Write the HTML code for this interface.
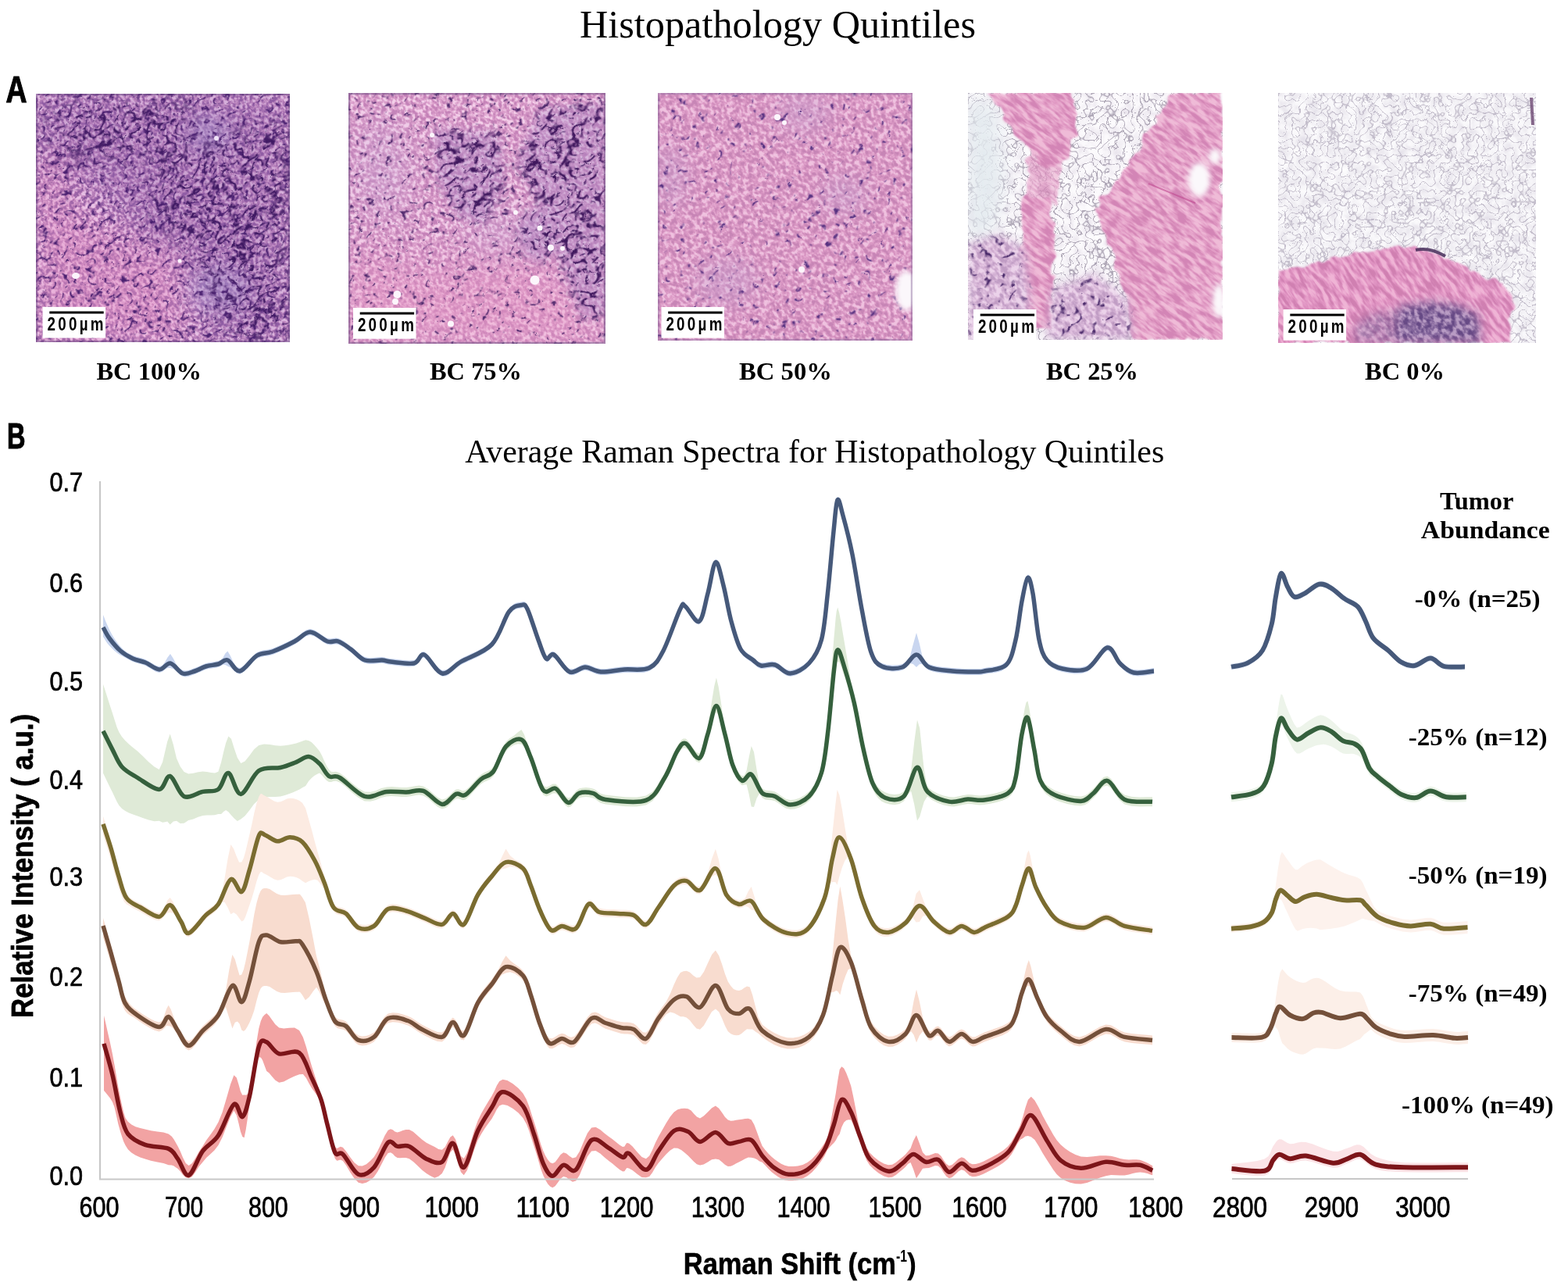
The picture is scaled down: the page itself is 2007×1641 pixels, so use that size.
<!DOCTYPE html>
<html><head><meta charset="utf-8"><title>Histopathology Quintiles</title>
<style>html,body{margin:0;padding:0;background:#fff;}svg{display:block;}</style></head>
<body>
<svg width="2007" height="1641" viewBox="0 0 2007 1641">
<rect width="2007" height="1641" fill="#fff"/>
<defs><filter id="bl6" x="-50%" y="-50%" width="200%" height="200%"><feGaussianBlur stdDeviation="6"/></filter>
<filter id="bl12" x="-50%" y="-50%" width="200%" height="200%"><feGaussianBlur stdDeviation="12"/></filter>
<filter id="bl20" x="-50%" y="-50%" width="200%" height="200%"><feGaussianBlur stdDeviation="20"/></filter>
<filter id="bl3" x="-50%" y="-50%" width="200%" height="200%"><feGaussianBlur stdDeviation="3"/></filter>
<filter id="jag" x="-20%" y="-20%" width="140%" height="140%"><feTurbulence type="fractalNoise" baseFrequency="0.06" numOctaves="2" seed="77" result="t"/><feDisplacementMap in="SourceGraphic" in2="t" scale="14" xChannelSelector="R" yChannelSelector="G" result="d"/><feGaussianBlur in="d" stdDeviation="1.2"/></filter>
<clipPath id="c1"><rect x="46" y="120" width="325" height="318"/></clipPath>
<filter id="s1" x="0" y="0" width="1" height="1" color-interpolation-filters="sRGB"><feTurbulence type="fractalNoise" baseFrequency="0.26 0.2" numOctaves="3" seed="11"/><feColorMatrix type="matrix" values="1 0 0 0 0 1 0 0 0 0 1 0 0 0 0 0 0 0 0 1"/><feComponentTransfer><feFuncR type="table" tableValues="0.949 0.949 0.949 0.949 0.949 0.949 0.949 0.949 0.949 0.949 0.949 0.949 0.949 0.949 0.939 0.913 0.887 0.862 0.836 0.810 0.784 0.749 0.713 0.678 0.642 0.607 0.571 0.557 0.557 0.557 0.557 0.557 0.557 0.557 0.557 0.557 0.557 0.557 0.557 0.557 0.557"/><feFuncG type="table" tableValues="0.816 0.816 0.816 0.816 0.816 0.816 0.816 0.816 0.816 0.816 0.816 0.816 0.816 0.816 0.800 0.761 0.722 0.682 0.643 0.604 0.565 0.533 0.501 0.469 0.437 0.405 0.374 0.361 0.361 0.361 0.361 0.361 0.361 0.361 0.361 0.361 0.361 0.361 0.361 0.361 0.361"/><feFuncB type="table" tableValues="0.941 0.941 0.941 0.941 0.941 0.941 0.941 0.941 0.941 0.941 0.941 0.941 0.941 0.941 0.930 0.903 0.876 0.850 0.823 0.796 0.769 0.749 0.729 0.710 0.690 0.671 0.651 0.643 0.643 0.643 0.643 0.643 0.643 0.643 0.643 0.643 0.643 0.643 0.643 0.643 0.643"/></feComponentTransfer></filter>
<filter id="n1a" x="0" y="0" width="1" height="1" color-interpolation-filters="sRGB"><feTurbulence type="turbulence" baseFrequency="0.07 0.11" numOctaves="1" seed="12" result="t"/><feColorMatrix in="t" type="matrix" values="0 0 0 0 0.290 0 0 0 0 0.125 0 0 0 0 0.439 -9 0 0 0 1.2" result="w"/><feTurbulence type="fractalNoise" baseFrequency="0.12" numOctaves="2" seed="112" result="f"/><feColorMatrix in="f" type="matrix" values="0 0 0 0 0 0 0 0 0 0 0 0 0 0 0 8 0 0 0 -3.920" result="m"/><feComposite in="w" in2="m" operator="in"/><feGaussianBlur stdDeviation="0.75"/></filter>
<filter id="n1b" x="0" y="0" width="1" height="1" color-interpolation-filters="sRGB"><feTurbulence type="turbulence" baseFrequency="0.065 0.1" numOctaves="1" seed="13" result="t"/><feColorMatrix in="t" type="matrix" values="0 0 0 0 0.243 0 0 0 0 0.094 0 0 0 0 0.384 -9 0 0 0 1.3" result="w"/><feTurbulence type="fractalNoise" baseFrequency="0.11" numOctaves="2" seed="113" result="f"/><feColorMatrix in="f" type="matrix" values="0 0 0 0 0 0 0 0 0 0 0 0 0 0 0 8 0 0 0 -3.360" result="m"/><feComposite in="w" in2="m" operator="in"/><feGaussianBlur stdDeviation="0.75"/></filter>
<mask id="m1t" maskUnits="userSpaceOnUse" x="6" y="80" width="405" height="398"><g filter="url(#bl20)"><path d="M46,120 L371,120 L371,438 L265,438 L245,345 L175,300 L120,230 L60,230 Z" fill="#fff"/></g></mask>
<mask id="m1b" maskUnits="userSpaceOnUse" x="6" y="80" width="405" height="398"><g filter="url(#bl12)"><path d="M200,200 L371,150 L371,438 L300,438 L255,330 L190,270 Z" fill="#fff"/><path d="M60,130 L250,128 L230,192 L150,205 L70,200 Z" fill="#fff"/></g></mask>
<mask id="m1c" maskUnits="userSpaceOnUse" x="6" y="80" width="405" height="398"><g filter="url(#bl20)"><path d="M46,250 L150,300 L230,330 L240,438 L46,438 Z" fill="#fff"/><rect x="46" y="200" width="40" height="120" fill="#fff"/></g></mask>
<mask id="m1g" maskUnits="userSpaceOnUse" x="6" y="80" width="405" height="398"><g filter="url(#bl12)"><ellipse cx="268" cy="172" rx="28" ry="24" fill="#fff"/><ellipse cx="280" cy="370" rx="40" ry="28" fill="#fff"/></g></mask>
<clipPath id="c2"><rect x="446" y="119" width="329" height="321"/></clipPath>
<filter id="s2" x="0" y="0" width="1" height="1" color-interpolation-filters="sRGB"><feTurbulence type="fractalNoise" baseFrequency="0.24 0.18" numOctaves="3" seed="21"/><feColorMatrix type="matrix" values="1 0 0 0 0 1 0 0 0 0 1 0 0 0 0 0 0 0 0 1"/><feComponentTransfer><feFuncR type="table" tableValues="0.957 0.957 0.957 0.957 0.957 0.957 0.957 0.957 0.957 0.957 0.957 0.957 0.957 0.957 0.951 0.936 0.922 0.907 0.892 0.877 0.863 0.848 0.833 0.819 0.804 0.789 0.775 0.769 0.769 0.769 0.769 0.769 0.769 0.769 0.769 0.769 0.769 0.769 0.769 0.769 0.769"/><feFuncG type="table" tableValues="0.816 0.816 0.816 0.816 0.816 0.816 0.816 0.816 0.816 0.816 0.816 0.816 0.816 0.816 0.804 0.775 0.745 0.716 0.686 0.657 0.627 0.609 0.591 0.572 0.554 0.536 0.517 0.510 0.510 0.510 0.510 0.510 0.510 0.510 0.510 0.510 0.510 0.510 0.510 0.510 0.510"/><feFuncB type="table" tableValues="0.918 0.918 0.918 0.918 0.918 0.918 0.918 0.918 0.918 0.918 0.918 0.918 0.918 0.918 0.910 0.892 0.874 0.855 0.837 0.818 0.800 0.788 0.775 0.763 0.751 0.739 0.726 0.722 0.722 0.722 0.722 0.722 0.722 0.722 0.722 0.722 0.722 0.722 0.722 0.722 0.722"/></feComponentTransfer></filter>
<filter id="n2a" x="0" y="0" width="1" height="1" color-interpolation-filters="sRGB"><feTurbulence type="turbulence" baseFrequency="0.07 0.11" numOctaves="1" seed="22" result="t"/><feColorMatrix in="t" type="matrix" values="0 0 0 0 0.306 0 0 0 0 0.157 0 0 0 0 0.424 -9 0 0 0 1.15" result="w"/><feTurbulence type="fractalNoise" baseFrequency="0.12" numOctaves="2" seed="122" result="f"/><feColorMatrix in="f" type="matrix" values="0 0 0 0 0 0 0 0 0 0 0 0 0 0 0 8 0 0 0 -4.400" result="m"/><feComposite in="w" in2="m" operator="in"/><feGaussianBlur stdDeviation="0.75"/></filter>
<filter id="n2b" x="0" y="0" width="1" height="1" color-interpolation-filters="sRGB"><feTurbulence type="turbulence" baseFrequency="0.06 0.09" numOctaves="1" seed="23" result="t"/><feColorMatrix in="t" type="matrix" values="0 0 0 0 0.251 0 0 0 0 0.094 0 0 0 0 0.369 -9 0 0 0 1.35" result="w"/><feTurbulence type="fractalNoise" baseFrequency="0.1" numOctaves="2" seed="123" result="f"/><feColorMatrix in="f" type="matrix" values="0 0 0 0 0 0 0 0 0 0 0 0 0 0 0 8 0 0 0 -3.440" result="m"/><feComposite in="w" in2="m" operator="in"/><feGaussianBlur stdDeviation="0.75"/></filter>
<mask id="m2b" maskUnits="userSpaceOnUse" x="406" y="79" width="409" height="401"><g filter="url(#bl6)"><path d="M555,165 L640,170 L645,240 L620,285 L585,275 L560,230 Z" fill="#fff"/><path d="M690,140 L775,130 L775,400 L745,410 L715,330 L690,260 L660,210 Z" fill="#fff"/><ellipse cx="690" cy="300" rx="25" ry="35" fill="#fff"/><ellipse cx="755" cy="375" rx="20" ry="25" fill="#fff"/></g></mask>
<mask id="m2c" maskUnits="userSpaceOnUse" x="406" y="79" width="409" height="401"><g filter="url(#bl20)"><path d="M446,320 L560,350 L650,310 L720,350 L775,430 L775,440 L446,440 Z" fill="#fff"/></g></mask>
<mask id="m2l" maskUnits="userSpaceOnUse" x="406" y="79" width="409" height="401"><g filter="url(#bl20)"><ellipse cx="490" cy="215" rx="35" ry="65" fill="#fff"/><ellipse cx="640" cy="300" rx="40" ry="30" fill="#fff"/></g></mask>
<clipPath id="c3"><rect x="842" y="119" width="326" height="317"/></clipPath>
<filter id="s3" x="0" y="0" width="1" height="1" color-interpolation-filters="sRGB"><feTurbulence type="fractalNoise" baseFrequency="0.22 0.16" numOctaves="3" seed="31"/><feColorMatrix type="matrix" values="1 0 0 0 0 1 0 0 0 0 1 0 0 0 0 0 0 0 0 1"/><feComponentTransfer><feFuncR type="table" tableValues="0.941 0.941 0.941 0.941 0.941 0.941 0.941 0.941 0.941 0.941 0.941 0.941 0.941 0.941 0.936 0.924 0.912 0.900 0.887 0.875 0.863 0.850 0.838 0.826 0.814 0.801 0.789 0.784 0.784 0.784 0.784 0.784 0.784 0.784 0.784 0.784 0.784 0.784 0.784 0.784 0.784"/><feFuncG type="table" tableValues="0.761 0.761 0.761 0.761 0.761 0.761 0.761 0.761 0.761 0.761 0.761 0.761 0.761 0.761 0.751 0.726 0.702 0.677 0.653 0.628 0.604 0.592 0.579 0.567 0.555 0.543 0.530 0.525 0.525 0.525 0.525 0.525 0.525 0.525 0.525 0.525 0.525 0.525 0.525 0.525 0.525"/><feFuncB type="table" tableValues="0.878 0.878 0.878 0.878 0.878 0.878 0.878 0.878 0.878 0.878 0.878 0.878 0.878 0.878 0.872 0.856 0.840 0.824 0.808 0.792 0.776 0.767 0.757 0.747 0.737 0.727 0.718 0.714 0.714 0.714 0.714 0.714 0.714 0.714 0.714 0.714 0.714 0.714 0.714 0.714 0.714"/></feComponentTransfer></filter>
<filter id="n3" x="0" y="0" width="1" height="1" color-interpolation-filters="sRGB"><feTurbulence type="turbulence" baseFrequency="0.06 0.1" numOctaves="1" seed="33" result="t"/><feColorMatrix in="t" type="matrix" values="0 0 0 0 0.337 0 0 0 0 0.188 0 0 0 0 0.502 -8 0 0 0 1.15" result="w"/><feTurbulence type="fractalNoise" baseFrequency="0.1" numOctaves="2" seed="133" result="f"/><feColorMatrix in="f" type="matrix" values="0 0 0 0 0 0 0 0 0 0 0 0 0 0 0 8 0 0 0 -4.800" result="m"/><feComposite in="w" in2="m" operator="in"/><feGaussianBlur stdDeviation="0.75"/></filter>
<mask id="m3l" maskUnits="userSpaceOnUse" x="802" y="79" width="406" height="397"><g filter="url(#bl12)"><ellipse cx="860" cy="225" rx="20" ry="40" fill="#fff"/><ellipse cx="930" cy="360" rx="40" ry="30" fill="#fff"/><ellipse cx="1030" cy="145" rx="35" ry="25" fill="#fff"/><ellipse cx="1080" cy="250" rx="30" ry="25" fill="#fff"/></g></mask>
<mask id="m3w" maskUnits="userSpaceOnUse" x="802" y="79" width="406" height="397"><g filter="url(#bl3)"><ellipse cx="1160" cy="372" rx="14" ry="26" fill="#fff"/></g></mask>
<clipPath id="c4"><rect x="1239" y="119" width="326" height="316"/></clipPath>
<filter id="t4fat" x="0" y="0" width="1" height="1" color-interpolation-filters="sRGB"><feTurbulence type="fractalNoise" baseFrequency="0.08" numOctaves="3" seed="41" result="n"/><feColorMatrix in="n" type="matrix" values="1 0 0 0 0 1 0 0 0 0 1 0 0 0 0 0 0 0 0 1" result="g"/><feComponentTransfer in="g" result="bg"><feFuncR type="table" tableValues="0.902 0.905 0.909 0.912 0.916 0.919 0.923 0.926 0.929 0.933 0.936 0.940 0.943 0.947 0.950 0.953 0.957 0.960 0.964 0.967 0.971 0.974 0.977 0.981 0.984 0.985 0.986 0.987 0.988 0.989 0.990 0.991 0.992 0.993 0.994 0.995 0.996 0.997 0.998 0.999 1.000"/><feFuncG type="table" tableValues="0.878 0.883 0.887 0.891 0.895 0.899 0.903 0.908 0.912 0.916 0.920 0.924 0.928 0.933 0.937 0.941 0.945 0.949 0.953 0.957 0.961 0.965 0.969 0.973 0.976 0.978 0.979 0.981 0.982 0.984 0.985 0.987 0.988 0.990 0.991 0.993 0.994 0.996 0.997 0.999 1.000"/><feFuncB type="table" tableValues="0.918 0.921 0.924 0.926 0.929 0.932 0.935 0.938 0.941 0.944 0.947 0.950 0.953 0.956 0.959 0.962 0.965 0.968 0.971 0.974 0.976 0.979 0.982 0.985 0.988 0.989 0.990 0.990 0.991 0.992 0.993 0.993 0.994 0.995 0.996 0.996 0.997 0.998 0.999 0.999 1.000"/></feComponentTransfer><feTurbulence type="turbulence" baseFrequency="0.1" numOctaves="1" seed="48" result="t"/><feColorMatrix in="t" type="matrix" values="0 0 0 0 0.518 0 0 0 0 0.478 0 0 0 0 0.565 -7.500 0 0 0 0.600" result="ln"/><feGaussianBlur in="ln" stdDeviation="0.6" result="lb"/><feComposite in="lb" in2="bg" operator="over"/></filter>
<filter id="t4pink" x="0" y="0" width="1" height="1" color-interpolation-filters="sRGB"><feTurbulence type="fractalNoise" baseFrequency="0.05 0.2" numOctaves="3" seed="42"/><feColorMatrix type="matrix" values="1 0 0 0 0 1 0 0 0 0 1 0 0 0 0 0 0 0 0 1"/><feComponentTransfer><feFuncR type="table" tableValues="0.941 0.941 0.941 0.941 0.941 0.941 0.941 0.941 0.941 0.941 0.941 0.941 0.941 0.941 0.938 0.931 0.924 0.916 0.909 0.901 0.894 0.884 0.875 0.865 0.855 0.845 0.835 0.831 0.831 0.831 0.831 0.831 0.831 0.831 0.831 0.831 0.831 0.831 0.831 0.831 0.831"/><feFuncG type="table" tableValues="0.737 0.737 0.737 0.737 0.737 0.737 0.737 0.737 0.737 0.737 0.737 0.737 0.737 0.737 0.730 0.713 0.696 0.679 0.662 0.645 0.627 0.612 0.596 0.580 0.564 0.548 0.532 0.525 0.525 0.525 0.525 0.525 0.525 0.525 0.525 0.525 0.525 0.525 0.525 0.525 0.525"/><feFuncB type="table" tableValues="0.847 0.847 0.847 0.847 0.847 0.847 0.847 0.847 0.847 0.847 0.847 0.847 0.847 0.847 0.843 0.833 0.824 0.814 0.804 0.794 0.784 0.773 0.762 0.751 0.740 0.729 0.718 0.714 0.714 0.714 0.714 0.714 0.714 0.714 0.714 0.714 0.714 0.714 0.714 0.714 0.714"/></feComponentTransfer></filter>
<filter id="t4pur" x="0" y="0" width="1" height="1" color-interpolation-filters="sRGB"><feTurbulence type="fractalNoise" baseFrequency="0.18 0.12" numOctaves="3" seed="43"/><feColorMatrix type="matrix" values="1 0 0 0 0 1 0 0 0 0 1 0 0 0 0 0 0 0 0 1"/><feComponentTransfer><feFuncR type="table" tableValues="0.925 0.925 0.925 0.925 0.925 0.925 0.925 0.925 0.925 0.925 0.925 0.925 0.925 0.925 0.921 0.908 0.896 0.884 0.872 0.859 0.847 0.832 0.818 0.803 0.788 0.774 0.759 0.753 0.753 0.753 0.753 0.753 0.753 0.753 0.753 0.753 0.753 0.753 0.753 0.753 0.753"/><feFuncG type="table" tableValues="0.824 0.824 0.824 0.824 0.824 0.824 0.824 0.824 0.824 0.824 0.824 0.824 0.824 0.824 0.817 0.800 0.782 0.765 0.748 0.731 0.714 0.698 0.682 0.666 0.650 0.634 0.618 0.612 0.612 0.612 0.612 0.612 0.612 0.612 0.612 0.612 0.612 0.612 0.612 0.612 0.612"/><feFuncB type="table" tableValues="0.918 0.918 0.918 0.918 0.918 0.918 0.918 0.918 0.918 0.918 0.918 0.918 0.918 0.918 0.913 0.902 0.891 0.880 0.869 0.858 0.847 0.835 0.823 0.810 0.798 0.786 0.774 0.769 0.769 0.769 0.769 0.769 0.769 0.769 0.769 0.769 0.769 0.769 0.769 0.769 0.769"/></feComponentTransfer></filter>
<filter id="n4" x="0" y="0" width="1" height="1" color-interpolation-filters="sRGB"><feTurbulence type="turbulence" baseFrequency="0.06 0.09" numOctaves="1" seed="44" result="t"/><feColorMatrix in="t" type="matrix" values="0 0 0 0 0.290 0 0 0 0 0.165 0 0 0 0 0.416 -8 0 0 0 1.2" result="w"/><feTurbulence type="fractalNoise" baseFrequency="0.1" numOctaves="2" seed="144" result="f"/><feColorMatrix in="f" type="matrix" values="0 0 0 0 0 0 0 0 0 0 0 0 0 0 0 8 0 0 0 -4.400" result="m"/><feComposite in="w" in2="m" operator="in"/><feGaussianBlur stdDeviation="0.75"/></filter>
<mask id="m4p" maskUnits="userSpaceOnUse" x="1199" y="79" width="406" height="396"><g filter="url(#jag)"><path d="M1266,119 L1372,119 L1378,165 L1368,205 L1340,215 L1300,175 Z" fill="#fff"/><path d="M1502,119 L1565,119 L1565,435 L1450,435 L1440,380 L1425,330 L1410,290 L1401,265 L1416,250 L1451,200 L1475,160 Z" fill="#fff"/><path d="M1311,250 L1345,255 L1350,300 L1346,420 L1316,425 L1306,330 Z" fill="#fff"/><path d="M1318,190 L1362,200 L1352,262 L1312,258 Z" fill="#fff" opacity="0.75"/></g></mask>
<mask id="m4w" maskUnits="userSpaceOnUse" x="1199" y="79" width="406" height="396"><g filter="url(#bl3)"><ellipse cx="1535" cy="230" rx="14" ry="22" fill="#fff"/><ellipse cx="1555" cy="200" rx="8" ry="10" fill="#fff"/><ellipse cx="1560" cy="385" rx="8" ry="22" fill="#fff"/></g></mask>
<mask id="m4u" maskUnits="userSpaceOnUse" x="1199" y="79" width="406" height="396"><g filter="url(#bl6)"><path d="M1239,312 L1280,300 L1312,318 L1318,380 L1320,435 L1239,435 Z" fill="#fff"/></g></mask>
<mask id="m4v" maskUnits="userSpaceOnUse" x="1199" y="79" width="406" height="396"><g filter="url(#bl6)"><path d="M1346,370 L1400,350 L1445,385 L1450,435 L1340,435 Z" fill="#fff"/></g></mask>
<mask id="m4g" maskUnits="userSpaceOnUse" x="1199" y="79" width="406" height="396"><g filter="url(#bl12)"><path d="M1239,125 L1275,135 L1285,230 L1270,300 L1239,310 Z" fill="#fff"/></g></mask>
<clipPath id="c5"><rect x="1636" y="119" width="330" height="320"/></clipPath>
<filter id="t5fat" x="0" y="0" width="1" height="1" color-interpolation-filters="sRGB"><feTurbulence type="fractalNoise" baseFrequency="0.08" numOctaves="3" seed="51" result="n"/><feColorMatrix in="n" type="matrix" values="1 0 0 0 0 1 0 0 0 0 1 0 0 0 0 0 0 0 0 1" result="g"/><feComponentTransfer in="g" result="bg"><feFuncR type="table" tableValues="0.886 0.890 0.893 0.897 0.900 0.903 0.907 0.910 0.914 0.917 0.921 0.924 0.927 0.931 0.934 0.938 0.941 0.945 0.949 0.953 0.957 0.961 0.965 0.969 0.973 0.974 0.976 0.978 0.979 0.981 0.983 0.985 0.986 0.988 0.990 0.991 0.993 0.995 0.997 0.998 1.000"/><feFuncG type="table" tableValues="0.871 0.875 0.878 0.882 0.886 0.890 0.894 0.898 0.902 0.906 0.910 0.914 0.918 0.922 0.925 0.929 0.933 0.938 0.942 0.947 0.951 0.955 0.960 0.964 0.969 0.971 0.973 0.975 0.976 0.978 0.980 0.982 0.984 0.986 0.988 0.990 0.992 0.994 0.996 0.998 1.000"/><feFuncB type="table" tableValues="0.910 0.912 0.915 0.918 0.921 0.923 0.926 0.929 0.931 0.934 0.937 0.939 0.942 0.945 0.948 0.950 0.953 0.956 0.960 0.963 0.967 0.970 0.974 0.977 0.980 0.982 0.983 0.984 0.985 0.987 0.988 0.989 0.990 0.991 0.993 0.994 0.995 0.996 0.998 0.999 1.000"/></feComponentTransfer><feTurbulence type="turbulence" baseFrequency="0.11" numOctaves="1" seed="58" result="t"/><feColorMatrix in="t" type="matrix" values="0 0 0 0 0.667 0 0 0 0 0.635 0 0 0 0 0.706 -7.650 0 0 0 0.637" result="ln"/><feGaussianBlur in="ln" stdDeviation="0.6" result="lb"/><feComposite in="lb" in2="bg" operator="over"/></filter>
<filter id="t5pink" x="0" y="0" width="1" height="1" color-interpolation-filters="sRGB"><feTurbulence type="fractalNoise" baseFrequency="0.05 0.2" numOctaves="3" seed="52"/><feColorMatrix type="matrix" values="1 0 0 0 0 1 0 0 0 0 1 0 0 0 0 0 0 0 0 1"/><feComponentTransfer><feFuncR type="table" tableValues="0.941 0.941 0.941 0.941 0.941 0.941 0.941 0.941 0.941 0.941 0.941 0.941 0.941 0.941 0.938 0.929 0.921 0.912 0.903 0.895 0.886 0.875 0.864 0.853 0.842 0.831 0.820 0.816 0.816 0.816 0.816 0.816 0.816 0.816 0.816 0.816 0.816 0.816 0.816 0.816 0.816"/><feFuncG type="table" tableValues="0.706 0.706 0.706 0.706 0.706 0.706 0.706 0.706 0.706 0.706 0.706 0.706 0.706 0.706 0.699 0.680 0.662 0.643 0.625 0.607 0.588 0.575 0.561 0.548 0.534 0.521 0.507 0.502 0.502 0.502 0.502 0.502 0.502 0.502 0.502 0.502 0.502 0.502 0.502 0.502 0.502"/><feFuncB type="table" tableValues="0.839 0.839 0.839 0.839 0.839 0.839 0.839 0.839 0.839 0.839 0.839 0.839 0.839 0.839 0.835 0.824 0.813 0.802 0.791 0.780 0.769 0.758 0.747 0.736 0.725 0.713 0.702 0.698 0.698 0.698 0.698 0.698 0.698 0.698 0.698 0.698 0.698 0.698 0.698 0.698 0.698"/></feComponentTransfer></filter>
<filter id="t5pur" x="0" y="0" width="1" height="1" color-interpolation-filters="sRGB"><feTurbulence type="fractalNoise" baseFrequency="0.18 0.12" numOctaves="3" seed="53"/><feColorMatrix type="matrix" values="1 0 0 0 0 1 0 0 0 0 1 0 0 0 0 0 0 0 0 1"/><feComponentTransfer><feFuncR type="table" tableValues="0.722 0.722 0.722 0.722 0.722 0.722 0.722 0.722 0.722 0.722 0.722 0.722 0.722 0.722 0.710 0.682 0.654 0.626 0.598 0.569 0.541 0.519 0.497 0.475 0.453 0.431 0.409 0.400 0.400 0.400 0.400 0.400 0.400 0.400 0.400 0.400 0.400 0.400 0.400 0.400 0.400"/><feFuncG type="table" tableValues="0.612 0.612 0.612 0.612 0.612 0.612 0.612 0.612 0.612 0.612 0.612 0.612 0.612 0.612 0.600 0.571 0.541 0.512 0.482 0.453 0.424 0.403 0.382 0.361 0.340 0.319 0.299 0.290 0.290 0.290 0.290 0.290 0.290 0.290 0.290 0.290 0.290 0.290 0.290 0.290 0.290"/><feFuncB type="table" tableValues="0.769 0.769 0.769 0.769 0.769 0.769 0.769 0.769 0.769 0.769 0.769 0.769 0.769 0.769 0.760 0.738 0.716 0.694 0.672 0.650 0.627 0.612 0.596 0.580 0.564 0.548 0.532 0.525 0.525 0.525 0.525 0.525 0.525 0.525 0.525 0.525 0.525 0.525 0.525 0.525 0.525"/></feComponentTransfer></filter>
<mask id="m5p" maskUnits="userSpaceOnUse" x="1596" y="79" width="410" height="400"><g filter="url(#jag)"><path d="M1636,345 L1686,337 L1716,328 L1752,323 L1786,315 L1827,320 L1869,340 L1894,353 L1927,365 L1935,377 L1932,439 L1636,439 Z" fill="#fff"/></g></mask>
<mask id="m5u" maskUnits="userSpaceOnUse" x="1596" y="79" width="410" height="400"><g filter="url(#bl6)"><path d="M1790,392 L1830,386 L1865,390 L1892,402 L1896,439 L1785,439 Z" fill="#fff"/><path d="M1735,415 L1760,400 L1792,398 L1790,439 L1732,439 Z" fill="#fff" opacity="0.55"/></g></mask></defs>
<g clip-path="url(#c1)">
<g><g transform="rotate(-38 208.5 279.0)"><rect x="-35.2" y="35.2" width="487.5" height="487.5" filter="url(#s1)"/></g></g>
<g mask="url(#m1t)"><rect x="46" y="120" width="325" height="318" fill="#9460a8" opacity="0.4"/></g>
<g mask="url(#m1c)"><rect x="46" y="120" width="325" height="318" fill="#e08cc0" opacity="0.5"/></g>
<g mask="url(#m1g)"><rect x="46" y="120" width="325" height="318" fill="#a898d0" opacity="0.45"/></g>
<g><g transform="rotate(-38 208.5 279.0)"><rect x="-35.2" y="35.2" width="487.5" height="487.5" filter="url(#n1a)"/></g></g>
<g mask="url(#m1b)"><g transform="rotate(-38 208.5 279.0)"><rect x="-35.2" y="35.2" width="487.5" height="487.5" filter="url(#n1b)"/></g></g>
<ellipse cx="97" cy="353" rx="5" ry="4" fill="#fcf4fc"/><ellipse cx="277" cy="177" rx="3" ry="3" fill="#f0e4f8"/><circle cx="230" cy="334" r="2.5" fill="#fcf4fc"/>
<rect x="47" y="121" width="323" height="316" fill="none" stroke="#5a3a78" stroke-width="2.5" opacity="0.45"/>
</g>
<g clip-path="url(#c2)">
<g><g transform="rotate(-35 610.5 279.5)"><rect x="363.8" y="32.8" width="493.5" height="493.5" filter="url(#s2)"/></g></g>
<g mask="url(#m2c)"><rect x="446" y="119" width="329" height="321" fill="#e896c4" opacity="0.4"/></g>
<g mask="url(#m2l)"><rect x="446" y="119" width="329" height="321" fill="#c8b0dc" opacity="0.3"/></g>
<g mask="url(#m2b)"><rect x="446" y="119" width="329" height="321" fill="#a084c4" opacity="0.35"/></g>
<g><g transform="rotate(-35 610.5 279.5)"><rect x="363.8" y="32.8" width="493.5" height="493.5" filter="url(#n2a)"/></g></g>
<g mask="url(#m2b)"><g transform="rotate(-35 610.5 279.5)"><rect x="363.8" y="32.8" width="493.5" height="493.5" filter="url(#n2b)"/></g></g>
<circle cx="684.6" cy="358.6" r="6" fill="#fcf6fc"/>
<circle cx="705" cy="317" r="4" fill="#fcf6fc"/>
<circle cx="691" cy="292" r="3.5" fill="#fcf6fc"/>
<circle cx="660" cy="272" r="3" fill="#fcf6fc"/>
<circle cx="508.5" cy="377" r="5" fill="#fcf6fc"/>
<circle cx="506" cy="386" r="4" fill="#fcf6fc"/>
<circle cx="577" cy="414.6" r="4" fill="#fcf6fc"/>
<circle cx="553" cy="173" r="3" fill="#fcf6fc"/>
<circle cx="720" cy="318" r="3" fill="#fcf6fc"/>
<rect x="447" y="120" width="327" height="319" fill="none" stroke="#6a4a80" stroke-width="2.5" opacity="0.5"/>
</g>
<g clip-path="url(#c3)">
<g><g transform="rotate(-40 1005.0 277.5)"><rect x="760.5" y="33.0" width="489.0" height="489.0" filter="url(#s3)"/></g></g>
<g mask="url(#m3l)"><rect x="842" y="119" width="326" height="317" fill="#c0a4d4" opacity="0.3"/></g>
<g><g transform="rotate(-50 1005.0 277.5)"><rect x="760.5" y="33.0" width="489.0" height="489.0" filter="url(#n3)"/></g></g>
<g mask="url(#m3w)"><rect x="1130" y="330" width="40" height="90" fill="#fbf7fb"/></g>
<circle cx="1026" cy="345" r="4" fill="#fcf6fc"/><circle cx="995" cy="150" r="4" fill="#fcf6fc"/><circle cx="1004" cy="157" r="3" fill="#fcf6fc"/>
<rect x="843" y="120" width="324" height="315" fill="none" stroke="#7a5a90" stroke-width="2.5" opacity="0.4"/>
</g>
<g clip-path="url(#c4)">
<g><rect x="1239" y="119" width="326" height="316" filter="url(#t4fat)"/></g>
<g mask="url(#m4g)"><rect x="1239" y="119" width="326" height="316" fill="#e2eaee" opacity="0.9"/></g>
<g mask="url(#m4p)"><g transform="rotate(38 1402.0 277.0)"><rect x="1157.5" y="32.5" width="489.0" height="489.0" filter="url(#t4pink)"/></g></g>
<g mask="url(#m4w)"><rect x="1239" y="119" width="326" height="316" fill="#fbf8fb"/></g>
<g mask="url(#m4u)"><g transform="rotate(-40 1402.0 277.0)"><rect x="1157.5" y="32.5" width="489.0" height="489.0" filter="url(#t4pur)"/></g></g>
<g mask="url(#m4v)"><g transform="rotate(-40 1402.0 277.0)"><rect x="1157.5" y="32.5" width="489.0" height="489.0" filter="url(#t4pur)"/></g></g>
<g mask="url(#m4u)"><g transform="rotate(-40 1402.0 277.0)"><rect x="1157.5" y="32.5" width="489.0" height="489.0" filter="url(#n4)"/></g></g>
<g mask="url(#m4v)"><g transform="rotate(-40 1402.0 277.0)"><rect x="1157.5" y="32.5" width="489.0" height="489.0" filter="url(#n4)"/></g></g>
<path d="M1470,235 L1530,260" stroke="#c04890" stroke-width="2" opacity="0.6"/>
</g>
<g clip-path="url(#c5)">
<g><rect x="1636" y="119" width="330" height="320" filter="url(#t5fat)"/></g>
<g mask="url(#m5p)"><g transform="rotate(55 1801.0 279.0)"><rect x="1553.5" y="31.5" width="495.0" height="495.0" filter="url(#t5pink)"/></g></g>
<g mask="url(#m5u)"><g transform="rotate(-40 1801.0 279.0)"><rect x="1553.5" y="31.5" width="495.0" height="495.0" filter="url(#t5pur)"/></g></g>
<path d="M1890,439 L1900,415" stroke="#fff" stroke-width="0"/>
<path d="M1812,320 Q1830,316 1850,328" stroke="#3c2050" stroke-width="4" fill="none" opacity="0.8"/>
<path d="M1960,125 L1962,160" stroke="#5a3060" stroke-width="4" opacity="0.7"/>
</g>
<rect x="54.6" y="392.9" width="80.5" height="39.7" fill="#fff"/>
<rect x="63.3" y="398.5" width="69.4" height="3" fill="#000"/>
<text transform="translate(60.5,422.7) scale(0.8,1)" font-family="Liberation Sans, sans-serif" font-size="23.5" font-weight="700" textLength="90" lengthAdjust="spacing">200µm</text>
<rect x="452" y="394" width="80.5" height="39.7" fill="#fff"/>
<rect x="460.7" y="399.6" width="69.4" height="3" fill="#000"/>
<text transform="translate(457.9,423.8) scale(0.8,1)" font-family="Liberation Sans, sans-serif" font-size="23.5" font-weight="700" textLength="90" lengthAdjust="spacing">200µm</text>
<rect x="846.5" y="393" width="80.5" height="39.7" fill="#fff"/>
<rect x="855.2" y="398.6" width="69.4" height="3" fill="#000"/>
<text transform="translate(852.4,422.8) scale(0.8,1)" font-family="Liberation Sans, sans-serif" font-size="23.5" font-weight="700" textLength="90" lengthAdjust="spacing">200µm</text>
<rect x="1246" y="396" width="80.5" height="39.7" fill="#fff"/>
<rect x="1254.7" y="401.6" width="69.4" height="3" fill="#000"/>
<text transform="translate(1251.9,425.8) scale(0.8,1)" font-family="Liberation Sans, sans-serif" font-size="23.5" font-weight="700" textLength="90" lengthAdjust="spacing">200µm</text>
<rect x="1642.6" y="396" width="80.5" height="39.7" fill="#fff"/>
<rect x="1651.3" y="401.6" width="69.4" height="3" fill="#000"/>
<text transform="translate(1648.5,425.8) scale(0.8,1)" font-family="Liberation Sans, sans-serif" font-size="23.5" font-weight="700" textLength="90" lengthAdjust="spacing">200µm</text>
<path d="M132.0,787.0 L133.3,790.3 L135.1,794.9 L137.4,800.3 L140.0,805.9 L143.0,811.8 L146.5,817.6 L150.2,822.8 L154.0,827.4 L157.9,831.5 L161.9,834.7 L166.0,837.0 L170.0,839.0 L174.0,840.5 L177.9,841.6 L181.9,842.6 L186.0,844.0 L190.5,846.4 L195.1,849.3 L199.7,851.9 L204.0,853.0 L207.7,851.7 L211.1,847.6 L214.5,841.5 L218.0,837.0 L221.9,843.0 L225.9,851.1 L230.0,855.4 L234.0,858.0 L237.9,858.4 L241.9,857.7 L245.7,856.3 L249.5,855.0 L253.1,853.6 L256.5,852.0 L259.9,850.4 L263.5,849.0 L267.5,848.1 L271.6,847.4 L275.7,846.8 L279.5,846.0 L282.7,844.4 L285.5,841.8 L288.3,836.6 L291.4,833.4 L294.9,839.4 L298.6,847.7 L302.6,853.4 L307.0,855.0 L312.1,852.0 L317.7,846.2 L323.5,839.7 L329.0,835.0 L334.0,832.9 L338.6,832.1 L343.5,831.5 L349.0,830.0 L355.6,827.3 L363.0,823.9 L370.4,820.4 L377.0,817.0 L382.5,813.4 L387.4,809.4 L392.0,806.3 L397.0,805.0 L402.5,806.6 L408.4,810.2 L414.0,814.3 L419.0,817.0 L423.0,817.6 L426.4,817.1 L429.5,816.6 L433.0,817.0 L436.8,818.7 L440.8,821.1 L444.8,824.0 L449.0,827.0 L453.3,830.5 L457.6,834.6 L462.2,838.4 L467.0,841.0 L472.5,841.9 L478.4,841.8 L484.2,841.2 L489.0,841.0 L492.1,841.4 L494.0,841.9 L496.2,842.5 L500.0,843.0 L506.6,843.8 L514.9,844.8 L523.2,845.4 L530.0,845.0 L534.2,842.3 L536.9,838.1 L539.4,834.6 L543.0,834.0 L548.0,838.5 L553.8,846.2 L559.9,853.9 L566.0,858.0 L571.6,857.2 L577.0,853.4 L582.9,848.2 L590.0,843.0 L599.2,838.5 L609.9,833.7 L620.5,828.1 L629.5,821.0 L636.4,811.1 L642.0,799.2 L646.8,787.6 L651.5,779.0 L656.1,774.2 L660.3,771.8 L664.2,770.9 L667.4,770.5 L669.7,770.0 L671.3,770.0 L672.8,771.5 L675.0,775.5 L678.1,783.3 L681.9,794.1 L685.6,805.4 L689.0,815.0 L691.8,822.8 L694.2,829.8 L696.6,835.4 L699.0,839.0 L701.3,839.2 L703.4,836.6 L705.8,834.0 L709.0,834.0 L713.3,838.3 L718.4,845.1 L723.8,851.8 L729.0,856.0 L734.0,856.2 L739.0,854.0 L744.0,851.3 L749.0,850.0 L753.8,850.9 L758.4,852.8 L763.3,854.9 L769.0,856.0 L775.8,855.9 L783.2,855.0 L791.1,853.9 L799.0,853.0 L807.2,852.9 L815.8,853.2 L823.9,852.9 L831.0,851.0 L836.4,847.6 L840.6,843.2 L844.6,837.2 L849.0,829.0 L854.5,816.7 L860.6,801.1 L866.3,786.1 L870.7,775.5 L873.1,770.6 L874.1,769.2 L875.0,770.1 L877.0,772.0 L880.8,776.5 L885.7,783.7 L890.7,789.9 L895.0,791.4 L898.3,786.4 L901.0,777.2 L903.5,766.1 L906.0,755.5 L908.6,744.2 L911.1,731.4 L913.5,720.8 L916.0,715.6 L918.5,717.8 L921.0,725.2 L923.5,735.3 L926.0,745.5 L928.5,756.1 L930.9,768.1 L933.4,780.3 L936.0,791.4 L938.8,801.5 L941.6,811.2 L944.7,819.9 L948.0,827.0 L951.9,832.2 L956.1,835.8 L960.3,838.5 L964.0,841.0 L966.7,843.4 L968.9,845.4 L971.1,847.0 L974.0,848.0 L977.9,848.0 L982.4,847.2 L987.2,846.6 L992.0,847.0 L996.7,849.5 L1001.4,853.2 L1006.3,856.7 L1011.5,858.0 L1017.4,856.8 L1023.7,854.1 L1030.0,850.0 L1035.5,845.0 L1040.2,839.4 L1044.5,832.9 L1048.2,825.0 L1051.4,815.0 L1054.0,802.7 L1055.9,788.3 L1057.6,772.5 L1059.4,755.5 L1061.4,736.1 L1063.4,714.5 L1065.3,693.6 L1067.0,676.0 L1068.4,661.8 L1069.5,649.8 L1070.7,640.9 L1072.0,636.0 L1073.5,636.1 L1075.1,640.4 L1076.9,647.5 L1079.0,656.0 L1081.6,665.9 L1084.7,677.7 L1087.9,691.2 L1091.0,705.7 L1094.0,722.1 L1097.0,740.2 L1100.0,758.6 L1103.0,775.5 L1106.0,791.3 L1108.9,806.5 L1111.9,820.1 L1115.0,831.0 L1118.1,838.5 L1121.1,843.4 L1124.6,846.6 L1129.0,849.0 L1134.8,850.8 L1141.8,851.6 L1148.8,851.3 L1155.0,850.0 L1160.1,846.4 L1164.6,841.1 L1168.8,824.7 L1173.0,810.0 L1176.8,823.4 L1180.2,838.4 L1184.1,846.0 L1189.0,850.0 L1195.5,852.1 L1203.1,853.4 L1211.2,854.3 L1219.0,855.0 L1226.9,855.6 L1235.2,855.9 L1242.8,856.0 L1249.0,856.0 L1252.7,856.1 L1254.6,856.1 L1256.5,855.8 L1260.0,855.0 L1266.2,854.1 L1273.9,852.9 L1281.7,850.9 L1288.0,847.0 L1292.2,841.1 L1295.2,833.6 L1297.7,824.8 L1300.0,815.0 L1302.3,803.4 L1304.3,790.1 L1306.1,776.9 L1308.0,765.5 L1309.9,755.5 L1311.8,746.2 L1313.6,739.1 L1315.4,735.6 L1317.1,736.1 L1318.7,740.0 L1320.3,746.6 L1322.0,755.5 L1323.9,768.4 L1325.8,784.9 L1327.8,801.6 L1330.0,815.0 L1332.1,824.2 L1334.2,831.0 L1336.8,836.3 L1340.0,841.0 L1344.0,845.1 L1348.7,848.1 L1354.0,850.4 L1360.0,852.0 L1367.2,853.4 L1375.4,854.4 L1383.7,854.2 L1391.5,852.0 L1398.6,846.0 L1405.4,837.2 L1411.8,829.1 L1417.4,825.0 L1422.1,826.9 L1425.9,832.6 L1429.5,839.5 L1433.4,845.0 L1437.5,848.9 L1441.6,852.4 L1446.0,855.2 L1451.0,857.0 L1457.5,857.4 L1465.1,856.8 L1472.1,855.7 L1477.0,855.0 L1477.0,863.0 L1472.1,863.7 L1465.1,864.8 L1457.5,865.4 L1451.0,865.0 L1446.0,863.2 L1441.6,860.4 L1437.5,856.9 L1433.4,853.0 L1429.5,847.5 L1425.9,840.6 L1422.1,834.9 L1417.4,833.0 L1411.8,837.1 L1405.4,845.2 L1398.6,854.0 L1391.5,860.0 L1383.7,862.2 L1375.4,862.4 L1367.2,861.4 L1360.0,860.0 L1354.0,858.4 L1348.7,856.1 L1344.0,853.1 L1340.0,849.0 L1336.8,844.3 L1334.2,839.0 L1332.1,832.2 L1330.0,823.0 L1327.8,809.6 L1325.8,792.9 L1323.9,776.4 L1322.0,763.5 L1320.3,754.6 L1318.7,748.0 L1317.1,744.1 L1315.4,743.6 L1313.6,747.1 L1311.8,754.2 L1309.9,763.5 L1308.0,773.5 L1306.1,784.9 L1304.3,798.1 L1302.3,811.4 L1300.0,823.0 L1297.7,832.8 L1295.2,841.6 L1292.2,849.1 L1288.0,855.0 L1281.7,858.9 L1273.9,860.9 L1266.2,862.1 L1260.0,863.0 L1256.5,863.8 L1254.6,864.1 L1252.7,864.1 L1249.0,864.0 L1242.8,864.0 L1235.2,863.9 L1226.9,863.6 L1219.0,863.0 L1211.2,862.3 L1203.1,861.4 L1195.5,860.1 L1189.0,858.0 L1184.1,854.0 L1180.2,849.8 L1176.8,850.3 L1173.0,854.0 L1168.8,849.9 L1164.6,849.1 L1160.1,854.4 L1155.0,858.0 L1148.8,859.3 L1141.8,859.6 L1134.8,858.8 L1129.0,857.0 L1124.6,854.6 L1121.1,851.4 L1118.1,846.5 L1115.0,839.0 L1111.9,828.1 L1108.9,814.5 L1106.0,799.3 L1103.0,783.5 L1100.0,766.6 L1097.0,748.2 L1094.0,730.1 L1091.0,713.7 L1087.9,699.2 L1084.7,685.7 L1081.6,673.9 L1079.0,664.0 L1076.9,655.5 L1075.1,648.4 L1073.5,644.1 L1072.0,644.0 L1070.7,648.9 L1069.5,657.8 L1068.4,669.8 L1067.0,684.0 L1065.3,701.6 L1063.4,722.5 L1061.4,744.1 L1059.4,763.5 L1057.6,780.5 L1055.9,796.3 L1054.0,810.7 L1051.4,823.0 L1048.2,833.0 L1044.5,840.9 L1040.2,847.4 L1035.5,853.0 L1030.0,858.0 L1023.7,862.1 L1017.4,864.8 L1011.5,866.0 L1006.3,864.7 L1001.4,861.2 L996.7,857.5 L992.0,855.0 L987.2,854.6 L982.4,855.2 L977.9,856.0 L974.0,856.0 L971.1,855.0 L968.9,853.4 L966.7,851.4 L964.0,849.0 L960.3,846.5 L956.1,843.8 L951.9,840.2 L948.0,835.0 L944.7,827.9 L941.6,819.2 L938.8,809.5 L936.0,799.4 L933.4,788.3 L930.9,776.1 L928.5,764.1 L926.0,753.5 L923.5,743.3 L921.0,733.2 L918.5,725.8 L916.0,723.6 L913.5,728.8 L911.1,739.4 L908.6,752.2 L906.0,763.5 L903.5,774.1 L901.0,785.2 L898.3,794.4 L895.0,799.4 L890.7,797.9 L885.7,791.7 L880.8,784.5 L877.0,780.0 L875.0,778.1 L874.1,777.2 L873.1,778.6 L870.7,783.5 L866.3,794.1 L860.6,809.1 L854.5,824.7 L849.0,837.0 L844.6,845.2 L840.6,851.2 L836.4,855.6 L831.0,859.0 L823.9,860.9 L815.8,861.2 L807.2,860.9 L799.0,861.0 L791.1,861.9 L783.2,863.0 L775.8,863.9 L769.0,864.0 L763.3,862.9 L758.4,860.8 L753.8,858.9 L749.0,858.0 L744.0,859.3 L739.0,862.0 L734.0,864.2 L729.0,864.0 L723.8,859.8 L718.4,853.1 L713.3,846.3 L709.0,842.0 L705.8,842.0 L703.4,844.6 L701.3,847.2 L699.0,847.0 L696.6,843.4 L694.2,837.8 L691.8,830.8 L689.0,823.0 L685.6,813.4 L681.9,802.1 L678.1,791.3 L675.0,783.5 L672.8,779.5 L671.3,778.0 L669.7,778.0 L667.4,778.5 L664.2,778.9 L660.3,779.8 L656.1,782.2 L651.5,787.0 L646.8,795.6 L642.0,807.2 L636.4,819.1 L629.5,829.0 L620.5,836.1 L609.9,841.7 L599.2,846.5 L590.0,851.0 L582.9,856.2 L577.0,861.4 L571.6,865.2 L566.0,866.0 L559.9,861.9 L553.8,854.2 L548.0,846.5 L543.0,842.0 L539.4,842.6 L536.9,846.1 L534.2,850.3 L530.0,853.0 L523.2,853.4 L514.9,852.8 L506.6,851.8 L500.0,851.0 L496.2,850.5 L494.0,849.9 L492.1,849.4 L489.0,849.0 L484.2,849.2 L478.4,849.8 L472.5,849.9 L467.0,849.0 L462.2,846.4 L457.6,842.6 L453.3,838.5 L449.0,835.0 L444.8,832.0 L440.8,829.1 L436.8,826.7 L433.0,825.0 L429.5,824.6 L426.4,825.1 L423.0,825.6 L419.0,825.0 L414.0,822.3 L408.4,818.2 L402.5,814.6 L397.0,813.0 L392.0,814.3 L387.4,817.4 L382.5,821.4 L377.0,825.0 L370.4,828.4 L363.0,831.9 L355.6,835.3 L349.0,838.0 L343.5,839.5 L338.6,840.1 L334.0,840.9 L329.0,843.0 L323.5,847.7 L317.7,854.2 L312.1,860.0 L307.0,863.0 L302.6,861.4 L298.6,857.6 L294.9,854.2 L291.4,852.8 L288.3,851.1 L285.5,850.8 L282.7,852.4 L279.5,854.0 L275.7,854.8 L271.6,855.4 L267.5,856.1 L263.5,857.0 L259.9,858.4 L256.5,860.0 L253.1,861.6 L249.5,863.0 L245.7,864.3 L241.9,865.7 L237.9,866.4 L234.0,866.0 L230.0,863.4 L225.9,859.2 L221.9,856.2 L218.0,855.0 L214.5,855.0 L211.1,857.0 L207.7,859.7 L204.0,861.0 L199.7,859.9 L195.1,857.3 L190.5,854.4 L186.0,852.0 L181.9,850.6 L177.9,849.6 L174.0,848.5 L170.0,847.0 L166.0,845.0 L161.9,842.7 L157.9,840.6 L154.0,838.6 L150.2,836.0 L146.5,832.9 L143.0,829.6 L140.0,826.5 L137.4,823.4 L135.1,820.0 L133.3,817.1 L132.0,815.0Z" fill="#c9d6f0"/>
<path d="M1576.0,849.6 L1579.8,849.0 L1585.3,848.1 L1591.4,846.7 L1597.0,844.6 L1602.1,841.8 L1607.1,838.4 L1611.8,834.0 L1616.0,828.5 L1619.6,821.3 L1622.8,812.7 L1625.5,803.5 L1627.8,794.6 L1629.5,786.0 L1630.6,777.4 L1631.6,768.9 L1632.8,760.7 L1634.3,751.7 L1636.0,742.3 L1637.7,734.4 L1639.6,730.2 L1641.6,731.2 L1643.7,735.9 L1645.8,742.0 L1648.0,747.0 L1650.0,750.9 L1652.0,754.8 L1654.1,758.0 L1656.6,759.9 L1659.5,760.2 L1662.7,759.3 L1666.2,757.6 L1670.0,755.6 L1674.4,752.8 L1679.2,749.1 L1684.1,745.7 L1688.7,743.8 L1692.7,743.7 L1696.5,744.7 L1700.1,746.6 L1704.0,748.8 L1708.1,751.7 L1712.4,755.3 L1716.7,759.0 L1721.0,762.4 L1725.4,765.0 L1729.9,767.2 L1734.2,769.5 L1738.0,772.6 L1741.0,776.6 L1743.4,781.2 L1745.7,786.1 L1748.0,791.2 L1750.3,796.6 L1752.5,802.4 L1754.9,808.1 L1758.0,813.2 L1762.1,817.5 L1767.0,821.3 L1772.0,824.8 L1776.8,828.5 L1781.2,832.6 L1785.4,836.8 L1789.6,840.7 L1793.8,843.7 L1798.0,845.9 L1802.0,847.4 L1806.2,848.1 L1810.7,848.0 L1815.6,846.2 L1820.8,842.9 L1826.1,839.9 L1831.0,838.6 L1835.2,840.0 L1839.1,843.1 L1843.1,846.5 L1848.0,848.8 L1854.7,849.7 L1862.6,849.8 L1869.9,849.7 L1875.0,849.6 L1875.0,857.6 L1869.9,857.7 L1862.6,857.8 L1854.7,857.7 L1848.0,856.8 L1843.1,854.5 L1839.1,851.1 L1835.2,848.0 L1831.0,846.6 L1826.1,847.9 L1820.8,850.9 L1815.6,854.2 L1810.7,856.0 L1806.2,856.1 L1802.0,855.4 L1798.0,853.9 L1793.8,851.7 L1789.6,848.7 L1785.4,844.8 L1781.2,840.6 L1776.8,836.5 L1772.0,832.8 L1767.0,829.3 L1762.1,825.5 L1758.0,821.2 L1754.9,816.1 L1752.5,810.4 L1750.3,804.6 L1748.0,799.2 L1745.7,794.1 L1743.4,789.2 L1741.0,784.6 L1738.0,780.6 L1734.2,777.5 L1729.9,775.2 L1725.4,773.0 L1721.0,770.4 L1716.7,767.0 L1712.4,763.3 L1708.1,759.7 L1704.0,756.8 L1700.1,754.6 L1696.5,752.7 L1692.7,751.7 L1688.7,751.8 L1684.1,753.7 L1679.2,757.1 L1674.4,760.8 L1670.0,763.6 L1666.2,765.6 L1662.7,767.3 L1659.5,768.2 L1656.6,767.9 L1654.1,766.0 L1652.0,762.8 L1650.0,758.9 L1648.0,755.0 L1645.8,750.0 L1643.7,743.9 L1641.6,739.2 L1639.6,738.2 L1637.7,742.4 L1636.0,750.3 L1634.3,759.7 L1632.8,768.7 L1631.6,776.9 L1630.6,785.4 L1629.5,794.0 L1627.8,802.6 L1625.5,811.5 L1622.8,820.7 L1619.6,829.3 L1616.0,836.5 L1611.8,842.0 L1607.1,846.4 L1602.1,849.8 L1597.0,852.6 L1591.4,854.7 L1585.3,856.1 L1579.8,857.0 L1576.0,857.6Z" fill="#e4eaf6"/>
<path d="M132.0,875.7 L134.2,882.4 L137.2,892.1 L140.7,902.9 L144.0,912.9 L146.8,921.9 L149.5,930.6 L152.4,937.2 L156.0,942.9 L160.3,947.9 L165.0,952.4 L170.3,956.9 L176.0,961.6 L182.7,967.8 L190.2,975.2 L197.6,981.5 L203.7,985.0 L208.1,975.4 L211.3,961.8 L214.2,949.3 L217.7,939.5 L221.8,953.0 L226.0,970.8 L230.6,980.9 L235.6,987.9 L241.2,990.4 L247.4,989.8 L253.7,988.3 L259.5,987.4 L264.9,988.0 L270.1,989.0 L275.0,989.5 L279.4,987.7 L283.1,975.7 L286.1,962.7 L289.1,950.9 L292.4,942.5 L296.0,945.7 L299.7,957.7 L303.8,969.7 L308.3,976.9 L313.4,974.6 L319.1,967.4 L325.1,959.3 L331.3,953.9 L338.1,952.4 L345.3,953.0 L352.5,954.3 L359.0,954.8 L364.6,954.3 L369.7,953.5 L374.5,952.5 L379.0,951.5 L383.3,950.1 L387.4,948.5 L391.2,947.3 L395.0,947.9 L398.7,950.1 L402.2,953.4 L405.7,957.4 L409.0,961.6 L412.1,967.3 L415.0,973.7 L417.9,979.9 L421.0,985.0 L423.9,987.8 L426.8,988.0 L430.2,987.8 L435.0,989.5 L441.8,994.6 L450.0,1002.0 L458.7,1009.0 L466.8,1013.4 L474.1,1013.8 L481.2,1011.9 L488.0,1009.1 L494.7,1007.4 L501.3,1007.1 L507.7,1007.4 L514.0,1007.9 L520.0,1008.0 L525.7,1007.3 L531.0,1006.2 L536.4,1005.5 L541.9,1006.4 L547.9,1010.0 L554.1,1015.6 L560.2,1020.8 L565.8,1023.4 L570.8,1021.9 L575.5,1017.9 L579.8,1013.4 L583.7,1010.4 L586.9,1010.2 L589.6,1011.3 L592.3,1012.3 L595.7,1011.4 L600.2,1007.7 L605.4,1002.1 L610.7,996.3 L615.6,991.5 L619.9,988.8 L623.8,987.2 L627.6,985.3 L631.5,981.5 L635.4,974.5 L639.2,965.5 L643.2,956.5 L647.5,949.6 L652.4,945.0 L657.7,941.7 L662.9,937.3 L667.4,934.1 L670.9,940.1 L673.6,947.8 L676.3,955.8 L679.4,963.6 L683.1,973.7 L687.1,986.1 L691.2,997.6 L695.3,1005.4 L699.3,1007.5 L703.3,1005.9 L707.3,1003.5 L711.3,1003.4 L715.3,1007.2 L719.4,1013.0 L723.4,1018.5 L727.2,1021.4 L730.7,1020.2 L734.1,1016.5 L737.5,1012.3 L741.2,1009.4 L745.4,1008.4 L750.0,1008.1 L754.6,1008.6 L759.0,1009.4 L762.3,1011.0 L764.9,1013.3 L768.5,1015.7 L775.0,1017.4 L786.1,1018.8 L800.5,1020.2 L815.1,1020.4 L826.9,1018.4 L835.0,1013.4 L841.1,1006.1 L846.0,997.8 L850.8,989.5 L855.5,980.8 L859.6,971.4 L863.3,962.5 L866.7,955.6 L869.6,950.7 L872.1,947.3 L874.6,945.5 L877.7,945.6 L881.7,949.5 L886.4,956.4 L891.0,962.6 L895.0,964.5 L898.2,960.4 L900.9,952.4 L903.4,942.7 L906.0,930.9 L908.7,913.7 L911.5,895.0 L914.2,878.5 L916.9,867.6 L919.6,878.8 L922.4,895.7 L925.1,914.7 L927.8,932.9 L930.3,943.6 L932.7,954.3 L935.2,964.6 L937.8,973.3 L940.7,980.3 L943.7,986.2 L946.8,990.6 L949.8,993.2 L952.7,992.4 L955.6,986.2 L958.6,969.6 L961.7,955.1 L965.0,962.5 L968.5,985.0 L972.0,1003.9 L975.7,1009.2 L979.4,1011.4 L983.3,1012.0 L987.3,1012.2 L991.6,1013.2 L996.2,1016.0 L1001.0,1019.6 L1006.1,1022.7 L1011.5,1024.1 L1017.4,1023.4 L1023.8,1021.2 L1030.0,1017.8 L1035.5,1013.2 L1040.2,1007.5 L1044.5,1000.7 L1048.2,992.6 L1051.4,983.3 L1054.0,972.9 L1055.9,958.9 L1057.6,941.0 L1059.4,920.7 L1061.5,895.8 L1063.5,867.6 L1065.5,840.3 L1067.3,818.2 L1068.7,802.5 L1069.7,790.8 L1070.8,782.3 L1072.3,777.6 L1074.2,784.4 L1076.4,795.7 L1078.7,809.7 L1081.3,825.0 L1084.1,841.5 L1087.1,859.9 L1090.2,879.0 L1093.3,891.7 L1096.3,906.0 L1099.3,921.8 L1102.2,937.5 L1105.2,951.8 L1108.1,964.6 L1111.0,976.5 L1113.9,987.1 L1117.2,995.9 L1120.7,1002.8 L1124.4,1008.0 L1128.5,1011.7 L1133.1,1014.3 L1138.7,1016.2 L1145.0,1017.1 L1151.3,1016.3 L1157.0,1013.0 L1161.8,1004.8 L1166.2,985.5 L1170.2,949.9 L1174.0,921.4 L1177.2,932.0 L1179.8,957.1 L1182.8,985.8 L1187.0,1007.2 L1193.0,1012.1 L1200.2,1015.8 L1207.8,1018.4 L1214.8,1020.1 L1221.1,1020.4 L1227.2,1019.3 L1233.0,1017.9 L1238.7,1017.1 L1244.0,1017.3 L1249.0,1017.9 L1254.1,1018.4 L1260.0,1018.0 L1267.4,1016.8 L1275.7,1015.0 L1283.7,1012.6 L1290.0,1009.4 L1294.0,1006.1 L1296.4,1002.4 L1298.1,997.3 L1300.0,989.5 L1302.2,977.2 L1304.2,961.6 L1306.1,944.2 L1308.0,928.8 L1309.9,916.7 L1311.7,906.4 L1313.5,899.2 L1315.4,897.3 L1317.4,906.5 L1319.6,920.7 L1321.7,936.7 L1323.8,951.7 L1325.6,964.1 L1327.1,974.9 L1329.0,985.0 L1331.7,993.4 L1335.1,999.7 L1339.1,1004.4 L1343.8,1008.1 L1349.7,1011.4 L1357.5,1014.5 L1366.8,1017.2 L1376.0,1018.9 L1383.6,1019.4 L1388.8,1018.3 L1392.5,1015.9 L1395.8,1012.7 L1399.5,1009.4 L1403.7,1004.9 L1408.1,999.3 L1412.6,994.7 L1417.4,993.4 L1422.3,997.1 L1427.3,1004.2 L1432.8,1011.9 L1439.4,1017.4 L1448.2,1019.7 L1458.6,1020.4 L1468.3,1020.3 L1475.0,1020.3 L1475.0,1032.3 L1468.3,1032.3 L1458.6,1032.4 L1448.2,1031.7 L1439.4,1029.4 L1432.8,1023.9 L1427.3,1016.2 L1422.3,1009.1 L1417.4,1005.4 L1412.6,1006.7 L1408.1,1011.3 L1403.7,1016.9 L1399.5,1021.4 L1395.8,1024.7 L1392.5,1027.9 L1388.8,1030.3 L1383.6,1031.4 L1376.0,1030.9 L1366.8,1029.2 L1357.5,1026.5 L1349.7,1023.4 L1343.8,1020.1 L1339.1,1016.4 L1335.1,1011.7 L1331.7,1005.4 L1329.0,997.0 L1327.1,986.9 L1325.6,976.1 L1323.8,965.6 L1321.7,954.0 L1319.6,941.4 L1317.4,930.6 L1315.4,924.7 L1313.5,924.8 L1311.7,929.1 L1309.9,936.5 L1308.0,945.6 L1306.1,958.0 L1304.2,973.6 L1302.2,989.2 L1300.0,1001.5 L1298.1,1009.3 L1296.4,1014.4 L1294.0,1018.1 L1290.0,1021.4 L1283.7,1024.6 L1275.7,1027.0 L1267.4,1028.8 L1260.0,1030.0 L1254.1,1030.4 L1249.0,1029.9 L1244.0,1029.3 L1238.7,1029.1 L1233.0,1029.9 L1227.2,1031.3 L1221.1,1032.4 L1214.8,1032.1 L1207.8,1030.4 L1200.2,1027.8 L1193.0,1024.1 L1187.0,1019.2 L1182.8,1026.3 L1179.8,1036.3 L1177.2,1045.6 L1174.0,1050.4 L1170.2,1029.4 L1166.2,1012.8 L1161.8,1016.9 L1157.0,1025.4 L1151.3,1029.0 L1145.0,1030.2 L1138.7,1029.6 L1133.1,1028.1 L1128.5,1025.7 L1124.4,1022.1 L1120.7,1017.2 L1117.2,1010.5 L1113.9,1001.8 L1111.0,991.4 L1108.1,979.6 L1105.2,967.0 L1102.2,952.9 L1099.3,937.3 L1096.3,921.6 L1093.3,907.5 L1090.2,895.0 L1087.1,884.5 L1084.1,875.2 L1081.3,867.1 L1078.7,859.5 L1076.4,852.6 L1074.2,847.8 L1072.3,846.7 L1070.8,848.3 L1069.7,853.1 L1068.7,861.1 L1067.3,872.2 L1065.5,888.3 L1063.5,908.7 L1061.5,929.8 L1059.4,947.7 L1057.6,961.8 L1055.9,973.9 L1054.0,984.9 L1051.4,995.3 L1048.2,1004.6 L1044.5,1012.7 L1040.2,1019.5 L1035.5,1025.2 L1030.0,1029.8 L1023.8,1033.2 L1017.4,1035.4 L1011.5,1036.1 L1006.1,1034.7 L1001.0,1031.6 L996.2,1028.0 L991.6,1025.2 L987.3,1024.2 L983.3,1024.0 L979.4,1023.4 L975.7,1021.2 L972.0,1015.9 L968.5,1021.9 L965.0,1033.0 L961.7,1032.5 L958.6,1016.5 L955.6,1004.3 L952.7,1004.4 L949.8,1005.2 L946.8,1002.6 L943.7,998.2 L940.7,992.3 L937.8,985.3 L935.2,976.6 L932.7,966.3 L930.3,955.6 L927.8,945.4 L925.1,935.0 L922.4,923.8 L919.6,914.9 L916.9,911.6 L914.2,915.2 L911.5,924.4 L908.7,935.7 L906.0,945.6 L903.4,954.7 L900.9,964.4 L898.2,972.4 L895.0,976.5 L891.0,974.6 L886.4,968.4 L881.7,961.5 L877.7,957.6 L874.6,957.5 L872.1,959.3 L869.6,962.7 L866.7,967.6 L863.3,974.5 L859.6,983.4 L855.5,992.8 L850.8,1001.5 L846.0,1009.8 L841.1,1018.1 L835.0,1025.4 L826.9,1030.4 L815.1,1032.4 L800.5,1032.2 L786.1,1030.8 L775.0,1029.4 L768.5,1027.7 L764.9,1025.3 L762.3,1023.0 L759.0,1021.4 L754.6,1020.6 L750.0,1020.1 L745.4,1020.4 L741.2,1021.4 L737.5,1024.3 L734.1,1028.5 L730.7,1032.2 L727.2,1033.4 L723.4,1030.5 L719.4,1025.0 L715.3,1019.2 L711.3,1015.4 L707.3,1015.5 L703.3,1017.9 L699.3,1019.5 L695.3,1017.4 L691.2,1009.6 L687.1,998.1 L683.1,985.7 L679.4,975.6 L676.3,967.8 L673.6,961.0 L670.9,955.7 L667.4,952.7 L662.9,952.2 L657.7,953.7 L652.4,957.0 L647.5,961.6 L643.2,968.5 L639.2,977.5 L635.4,986.5 L631.5,993.5 L627.6,997.3 L623.8,999.2 L619.9,1000.8 L615.6,1003.5 L610.7,1008.3 L605.4,1014.1 L600.2,1019.7 L595.7,1023.4 L592.3,1024.3 L589.6,1023.3 L586.9,1022.2 L583.7,1022.4 L579.8,1025.4 L575.5,1029.9 L570.8,1033.9 L565.8,1035.4 L560.2,1032.8 L554.1,1027.6 L547.9,1022.0 L541.9,1018.4 L536.4,1017.5 L531.0,1018.2 L525.7,1019.3 L520.0,1020.0 L514.0,1019.9 L507.7,1019.4 L501.3,1019.1 L494.7,1019.4 L488.0,1021.1 L481.2,1023.9 L474.1,1025.8 L466.8,1025.4 L458.7,1021.0 L450.0,1014.0 L441.8,1006.6 L435.0,1001.5 L430.2,999.8 L426.8,1000.0 L423.9,1000.9 L421.0,1001.0 L417.9,999.0 L415.0,995.7 L412.1,992.3 L409.0,989.6 L405.7,991.1 L402.2,993.0 L398.7,995.9 L395.0,1000.0 L391.2,1005.9 L387.4,1008.1 L383.3,1010.5 L379.0,1012.6 L374.5,1014.4 L369.7,1016.2 L364.6,1018.0 L359.0,1019.5 L352.5,1020.1 L345.3,1020.1 L338.1,1020.7 L331.3,1023.5 L325.1,1029.3 L319.1,1037.4 L313.4,1044.6 L308.3,1048.4 L303.8,1050.9 L299.7,1047.5 L296.0,1043.4 L292.4,1039.3 L289.1,1036.9 L286.1,1039.1 L283.1,1042.0 L279.4,1042.0 L275.0,1043.2 L270.1,1043.6 L264.9,1043.5 L259.5,1043.9 L253.7,1045.8 L247.4,1048.4 L241.2,1050.1 L235.6,1053.8 L230.6,1054.1 L226.0,1050.7 L221.8,1051.4 L217.7,1055.5 L214.2,1051.5 L211.3,1052.2 L208.1,1052.7 L203.7,1050.8 L197.6,1051.3 L190.2,1049.6 L182.7,1047.0 L176.0,1044.4 L170.3,1042.4 L165.0,1040.4 L160.3,1038.1 L156.0,1035.1 L152.4,1031.1 L149.5,1026.1 L146.8,1020.2 L144.0,1014.3 L140.7,1007.7 L137.2,1000.6 L134.2,994.2 L132.0,989.7Z" fill="#dfead7"/>
<path d="M1576.0,1014.3 L1581.0,1013.7 L1588.2,1012.8 L1596.0,1011.6 L1602.4,1010.0 L1607.1,1008.3 L1611.0,1006.5 L1614.4,1003.9 L1617.6,999.9 L1620.6,994.1 L1623.3,986.9 L1625.7,979.0 L1627.8,971.0 L1629.4,962.7 L1630.5,952.4 L1631.5,941.0 L1632.8,929.9 L1634.3,918.4 L1636.0,906.8 L1637.7,896.4 L1639.6,888.5 L1641.5,889.5 L1643.5,894.9 L1645.6,901.5 L1648.0,907.8 L1650.7,914.0 L1653.6,920.7 L1656.7,926.9 L1660.0,931.6 L1663.6,930.8 L1667.4,928.3 L1671.3,925.2 L1675.2,922.5 L1679.0,920.3 L1682.9,918.0 L1686.7,916.2 L1690.4,915.3 L1693.9,916.1 L1697.2,917.6 L1700.5,919.6 L1704.0,922.1 L1707.7,925.2 L1711.6,929.1 L1715.5,932.8 L1719.2,935.8 L1722.8,937.5 L1726.3,938.5 L1729.7,939.4 L1732.8,940.7 L1735.6,942.5 L1738.1,944.4 L1740.5,946.9 L1743.0,950.7 L1745.5,956.4 L1748.0,963.4 L1750.5,970.6 L1753.0,976.4 L1755.4,980.3 L1757.8,983.2 L1760.4,985.6 L1763.3,988.0 L1766.8,990.9 L1770.6,993.9 L1774.6,996.9 L1778.5,999.9 L1782.2,1002.9 L1785.9,1005.9 L1789.7,1008.6 L1793.8,1010.9 L1798.2,1012.7 L1802.9,1014.2 L1807.7,1015.1 L1812.4,1015.1 L1817.0,1013.5 L1821.6,1010.6 L1826.2,1007.9 L1831.0,1006.6 L1835.9,1007.6 L1840.8,1009.9 L1845.9,1012.5 L1851.4,1014.3 L1858.0,1014.8 L1865.4,1014.8 L1872.1,1014.5 L1876.8,1014.3 L1876.8,1026.3 L1872.1,1026.5 L1865.4,1026.8 L1858.0,1026.8 L1851.4,1026.3 L1845.9,1024.5 L1840.8,1021.9 L1835.9,1019.6 L1831.0,1018.6 L1826.2,1019.9 L1821.6,1022.6 L1817.0,1025.5 L1812.4,1027.1 L1807.7,1027.1 L1802.9,1026.2 L1798.2,1024.7 L1793.8,1022.9 L1789.7,1020.6 L1785.9,1017.9 L1782.2,1014.9 L1778.5,1011.9 L1774.6,1008.9 L1770.6,1005.9 L1766.8,1002.9 L1763.3,1000.0 L1760.4,997.6 L1757.8,996.3 L1755.4,994.6 L1753.0,991.9 L1750.5,987.3 L1748.0,981.4 L1745.5,975.6 L1743.0,971.2 L1740.5,968.6 L1738.1,967.0 L1735.6,965.9 L1732.8,965.0 L1729.7,964.7 L1726.3,964.9 L1722.8,965.0 L1719.2,964.5 L1715.5,962.7 L1711.6,960.1 L1707.7,957.6 L1704.0,955.6 L1700.5,954.3 L1697.2,953.2 L1693.9,952.8 L1690.4,953.2 L1686.7,953.7 L1682.9,954.8 L1679.0,956.5 L1675.2,958.0 L1671.3,960.0 L1667.4,962.6 L1663.6,964.4 L1660.0,964.6 L1656.7,961.1 L1653.6,956.0 L1650.7,950.2 L1648.0,945.0 L1645.6,939.6 L1643.5,933.7 L1641.5,929.0 L1639.6,927.4 L1637.7,930.1 L1636.0,935.6 L1634.3,942.6 L1632.8,949.8 L1631.5,957.4 L1630.5,965.9 L1629.4,974.7 L1627.8,983.0 L1625.7,991.0 L1623.3,998.9 L1620.6,1006.1 L1617.6,1011.9 L1614.4,1015.9 L1611.0,1018.5 L1607.1,1020.3 L1602.4,1022.0 L1596.0,1023.6 L1588.2,1024.8 L1581.0,1025.7 L1576.0,1026.3Z" fill="#edf4ea"/>
<path d="M132.0,1044.8 L133.8,1050.4 L136.4,1058.5 L139.3,1067.7 L142.0,1076.8 L144.5,1085.9 L146.9,1095.5 L149.4,1105.0 L151.9,1114.0 L154.2,1122.4 L156.4,1130.3 L158.8,1137.6 L161.9,1143.9 L165.7,1148.6 L170.0,1151.5 L174.7,1153.9 L179.8,1156.5 L185.6,1160.1 L192.0,1164.1 L198.3,1167.3 L203.7,1168.4 L207.9,1165.7 L211.3,1159.4 L214.4,1152.2 L217.7,1148.9 L221.3,1154.0 L224.9,1162.0 L228.4,1168.8 L231.6,1174.4 L234.1,1179.5 L236.1,1184.6 L238.4,1188.5 L241.6,1189.4 L246.4,1186.1 L252.2,1179.7 L258.2,1172.4 L263.5,1166.4 L267.9,1162.7 L271.8,1160.0 L275.6,1157.0 L279.4,1152.5 L283.4,1144.7 L287.5,1124.6 L291.5,1099.5 L295.4,1081.0 L299.1,1086.4 L302.7,1096.0 L306.1,1103.7 L309.3,1103.4 L312.0,1098.0 L314.4,1089.6 L316.8,1079.3 L319.3,1068.4 L322.3,1055.4 L325.4,1040.4 L328.5,1028.1 L331.3,1019.8 L333.4,1016.3 L335.0,1016.1 L336.8,1017.4 L339.2,1018.8 L342.6,1020.5 L346.7,1023.0 L351.0,1025.5 L355.2,1026.8 L359.2,1026.2 L363.2,1024.4 L367.1,1022.6 L371.1,1021.8 L375.1,1022.1 L379.0,1023.0 L383.0,1024.8 L387.0,1027.8 L391.1,1034.6 L395.2,1048.9 L399.3,1063.6 L403.0,1077.7 L406.3,1089.8 L409.3,1100.1 L412.1,1110.4 L415.0,1121.1 L417.9,1132.7 L420.7,1141.8 L423.6,1150.1 L426.9,1156.5 L430.6,1159.9 L434.6,1161.3 L438.8,1162.3 L442.9,1164.4 L446.8,1168.7 L450.6,1174.0 L454.5,1179.1 L458.8,1182.4 L463.5,1183.8 L468.6,1183.9 L473.8,1182.8 L478.7,1180.4 L483.2,1175.8 L487.5,1169.2 L491.9,1162.7 L496.7,1158.5 L502.1,1157.2 L508.0,1157.8 L514.0,1159.3 L520.0,1161.0 L526.0,1162.9 L532.0,1165.4 L538.0,1168.0 L543.8,1170.4 L549.6,1173.0 L555.4,1175.9 L560.9,1178.0 L565.8,1178.4 L569.8,1175.8 L573.2,1171.0 L576.4,1166.4 L579.7,1164.4 L583.1,1167.1 L586.5,1172.9 L589.9,1177.9 L593.7,1178.4 L597.9,1172.2 L602.4,1161.8 L607.0,1150.2 L611.6,1140.5 L616.1,1133.4 L620.5,1127.3 L625.0,1121.8 L629.5,1116.6 L633.9,1111.1 L638.2,1105.7 L642.7,1096.2 L647.5,1086.5 L653.0,1095.2 L659.0,1100.2 L664.7,1103.0 L669.4,1106.6 L672.7,1110.9 L675.0,1116.1 L677.0,1122.1 L679.4,1128.6 L682.2,1136.0 L685.1,1144.4 L688.1,1152.8 L691.3,1160.5 L694.7,1167.9 L698.2,1175.3 L701.8,1181.4 L705.3,1185.4 L708.7,1186.1 L712.0,1184.3 L715.4,1181.8 L719.2,1180.4 L723.5,1181.4 L728.1,1183.5 L732.8,1184.8 L737.2,1183.4 L741.4,1177.1 L745.4,1167.5 L749.3,1158.1 L753.1,1152.5 L756.5,1152.3 L759.5,1155.5 L762.9,1159.6 L767.0,1162.5 L772.4,1163.5 L778.6,1164.0 L785.1,1164.1 L791.0,1164.4 L796.4,1164.7 L801.5,1164.8 L806.3,1165.2 L810.9,1166.4 L815.2,1169.5 L819.1,1173.9 L823.0,1177.5 L826.9,1178.4 L830.8,1175.4 L834.6,1169.9 L838.5,1163.2 L842.8,1156.5 L847.6,1149.4 L852.7,1141.6 L857.9,1134.2 L862.7,1128.6 L866.9,1125.1 L870.9,1123.1 L874.7,1122.3 L878.7,1122.6 L882.9,1125.2 L887.1,1129.9 L891.5,1133.9 L896.0,1134.5 L900.9,1128.9 L906.2,1117.1 L911.3,1098.7 L915.9,1086.8 L919.7,1099.6 L923.1,1116.8 L926.3,1132.1 L929.8,1140.5 L933.7,1145.4 L937.7,1148.9 L941.8,1151.1 L945.8,1152.5 L949.8,1152.0 L953.7,1149.8 L957.7,1141.1 L961.7,1135.0 L965.4,1147.0 L968.8,1159.1 L972.7,1166.3 L977.7,1172.4 L984.3,1177.7 L992.0,1182.7 L1000.1,1186.9 L1007.6,1189.4 L1014.5,1190.5 L1021.0,1190.5 L1027.4,1188.6 L1033.5,1184.4 L1039.5,1177.1 L1045.5,1167.3 L1050.9,1156.0 L1055.4,1144.5 L1058.7,1132.2 L1061.2,1113.1 L1063.2,1090.0 L1065.3,1068.2 L1067.5,1047.5 L1069.5,1028.5 L1071.6,1011.1 L1074.3,1017.2 L1077.7,1035.0 L1081.5,1059.0 L1085.5,1083.9 L1089.3,1093.8 L1092.8,1105.0 L1096.2,1118.2 L1099.6,1131.7 L1103.2,1143.7 L1107.0,1154.4 L1111.0,1164.4 L1115.0,1173.1 L1119.2,1179.8 L1123.4,1184.3 L1127.8,1186.9 L1132.3,1188.0 L1137.1,1188.0 L1142.4,1186.7 L1148.0,1184.0 L1153.7,1180.4 L1159.0,1176.3 L1163.8,1170.6 L1168.2,1162.7 L1172.6,1144.1 L1177.0,1138.9 L1181.4,1151.0 L1185.8,1162.2 L1190.3,1168.9 L1194.9,1174.4 L1199.8,1178.8 L1205.0,1183.1 L1210.1,1186.6 L1214.8,1188.4 L1219.1,1187.6 L1223.0,1184.8 L1226.9,1181.8 L1230.8,1180.4 L1234.8,1181.6 L1238.9,1184.3 L1242.9,1187.0 L1246.7,1188.4 L1249.8,1188.1 L1252.5,1186.8 L1255.6,1184.8 L1260.0,1182.4 L1266.8,1179.5 L1275.2,1175.9 L1283.5,1172.1 L1290.0,1168.4 L1294.0,1165.2 L1296.4,1162.2 L1298.1,1158.8 L1300.0,1154.5 L1302.1,1148.8 L1304.1,1142.1 L1306.0,1135.1 L1308.0,1128.6 L1310.1,1116.4 L1312.3,1103.6 L1314.6,1092.4 L1316.8,1088.4 L1318.9,1095.8 L1321.0,1106.7 L1323.2,1119.4 L1325.8,1130.6 L1328.9,1137.1 L1332.3,1143.9 L1336.0,1150.5 L1339.7,1156.5 L1343.2,1161.8 L1346.6,1166.6 L1350.5,1170.8 L1355.7,1174.4 L1362.7,1177.6 L1370.9,1180.3 L1379.5,1182.1 L1387.6,1182.4 L1394.9,1180.1 L1402.0,1175.7 L1408.9,1171.5 L1415.5,1169.4 L1421.5,1170.6 L1427.0,1173.7 L1432.7,1177.4 L1439.4,1180.4 L1448.3,1182.4 L1458.7,1184.1 L1468.3,1185.4 L1475.0,1186.4 L1475.0,1196.4 L1468.3,1195.4 L1458.7,1194.1 L1448.3,1192.4 L1439.4,1190.4 L1432.7,1187.4 L1427.0,1183.7 L1421.5,1180.6 L1415.5,1179.4 L1408.9,1181.5 L1402.0,1185.7 L1394.9,1190.1 L1387.6,1192.4 L1379.5,1192.1 L1370.9,1190.3 L1362.7,1187.6 L1355.7,1184.4 L1350.5,1180.8 L1346.6,1176.6 L1343.2,1171.8 L1339.7,1166.5 L1336.0,1160.5 L1332.3,1153.9 L1328.9,1147.1 L1325.8,1140.6 L1323.2,1134.0 L1321.0,1126.9 L1318.9,1121.3 L1316.8,1119.3 L1314.6,1121.2 L1312.3,1126.1 L1310.1,1132.5 L1308.0,1138.6 L1306.0,1145.1 L1304.1,1152.1 L1302.1,1158.8 L1300.0,1164.5 L1298.1,1168.8 L1296.4,1172.2 L1294.0,1175.2 L1290.0,1178.4 L1283.5,1182.1 L1275.2,1185.9 L1266.8,1189.5 L1260.0,1192.4 L1255.6,1194.8 L1252.5,1196.8 L1249.8,1198.1 L1246.7,1198.4 L1242.9,1197.0 L1238.9,1194.3 L1234.8,1191.6 L1230.8,1190.4 L1226.9,1191.8 L1223.0,1194.8 L1219.1,1197.6 L1214.8,1198.4 L1210.1,1196.6 L1205.0,1193.1 L1199.8,1188.8 L1194.9,1184.4 L1190.3,1178.9 L1185.8,1172.2 L1181.4,1172.4 L1177.0,1180.1 L1172.6,1180.4 L1168.2,1174.2 L1163.8,1180.7 L1159.0,1186.5 L1153.7,1190.7 L1148.0,1194.5 L1142.4,1197.3 L1137.1,1198.8 L1132.3,1198.9 L1127.8,1197.9 L1123.4,1195.4 L1119.2,1191.0 L1115.0,1184.4 L1111.0,1175.7 L1107.0,1165.8 L1103.2,1155.3 L1099.6,1143.3 L1096.2,1130.0 L1092.8,1116.8 L1089.3,1105.6 L1085.5,1095.9 L1081.5,1101.5 L1077.7,1110.9 L1074.3,1122.2 L1071.6,1132.7 L1069.5,1129.3 L1067.5,1129.1 L1065.3,1129.0 L1063.2,1130.4 L1061.2,1134.1 L1058.7,1142.2 L1055.4,1154.5 L1050.9,1166.0 L1045.5,1177.3 L1039.5,1187.1 L1033.5,1194.4 L1027.4,1198.6 L1021.0,1200.5 L1014.5,1200.5 L1007.6,1199.4 L1000.1,1196.9 L992.0,1192.7 L984.3,1187.7 L977.7,1182.4 L972.7,1176.3 L968.8,1169.1 L965.4,1165.3 L961.7,1164.8 L957.7,1161.1 L953.7,1159.8 L949.8,1162.0 L945.8,1162.5 L941.8,1161.1 L937.7,1158.9 L933.7,1155.4 L929.8,1150.5 L926.3,1142.1 L923.1,1131.7 L919.7,1123.0 L915.9,1119.6 L911.3,1121.9 L906.2,1129.5 L900.9,1138.9 L896.0,1144.5 L891.5,1143.9 L887.1,1139.9 L882.9,1135.2 L878.7,1132.6 L874.7,1132.3 L870.9,1133.1 L866.9,1135.1 L862.7,1138.6 L857.9,1144.2 L852.7,1151.6 L847.6,1159.4 L842.8,1166.5 L838.5,1173.2 L834.6,1179.9 L830.8,1185.4 L826.9,1188.4 L823.0,1187.5 L819.1,1183.9 L815.2,1179.5 L810.9,1176.4 L806.3,1175.2 L801.5,1174.8 L796.4,1174.7 L791.0,1174.4 L785.1,1174.1 L778.6,1174.0 L772.4,1173.5 L767.0,1172.5 L762.9,1169.6 L759.5,1165.5 L756.5,1162.3 L753.1,1162.5 L749.3,1168.1 L745.4,1177.5 L741.4,1187.1 L737.2,1193.4 L732.8,1194.8 L728.1,1193.5 L723.5,1191.4 L719.2,1190.4 L715.4,1191.8 L712.0,1194.3 L708.7,1196.1 L705.3,1195.4 L701.8,1191.4 L698.2,1185.3 L694.7,1177.9 L691.3,1170.5 L688.1,1162.8 L685.1,1154.4 L682.2,1146.0 L679.4,1138.6 L677.0,1132.1 L675.0,1126.1 L672.7,1120.9 L669.4,1116.6 L664.7,1113.0 L659.0,1110.2 L653.0,1109.3 L647.5,1111.5 L642.7,1112.4 L638.2,1115.7 L633.9,1121.1 L629.5,1126.6 L625.0,1131.8 L620.5,1137.3 L616.1,1143.4 L611.6,1150.5 L607.0,1160.2 L602.4,1171.8 L597.9,1182.2 L593.7,1188.4 L589.9,1187.9 L586.5,1182.9 L583.1,1177.1 L579.7,1174.4 L576.4,1176.4 L573.2,1181.0 L569.8,1185.8 L565.8,1188.4 L560.9,1188.0 L555.4,1185.9 L549.6,1183.0 L543.8,1180.4 L538.0,1178.0 L532.0,1175.4 L526.0,1172.9 L520.0,1171.0 L514.0,1169.3 L508.0,1167.8 L502.1,1167.2 L496.7,1168.5 L491.9,1172.7 L487.5,1179.2 L483.2,1185.8 L478.7,1190.4 L473.8,1192.8 L468.6,1193.9 L463.5,1193.8 L458.8,1192.4 L454.5,1189.1 L450.6,1184.0 L446.8,1178.7 L442.9,1174.4 L438.8,1172.3 L434.6,1171.3 L430.6,1169.9 L426.9,1166.5 L423.6,1160.1 L420.7,1151.8 L417.9,1143.0 L415.0,1138.1 L412.1,1134.1 L409.3,1130.2 L406.3,1126.8 L403.0,1125.7 L399.3,1126.5 L395.2,1127.9 L391.1,1130.2 L387.0,1127.8 L383.0,1124.8 L379.0,1123.0 L375.1,1122.1 L371.1,1121.8 L367.1,1122.6 L363.2,1124.4 L359.2,1126.2 L355.2,1126.8 L351.0,1125.5 L346.7,1123.0 L342.6,1120.5 L339.2,1118.8 L336.8,1117.4 L335.0,1116.1 L333.4,1116.3 L331.3,1119.8 L328.5,1128.1 L325.4,1139.6 L322.3,1150.1 L319.3,1158.8 L316.8,1166.1 L314.4,1173.0 L312.0,1178.0 L309.3,1179.6 L306.1,1175.3 L302.7,1170.6 L299.1,1168.1 L295.4,1170.2 L291.5,1161.8 L287.5,1154.8 L283.4,1154.7 L279.4,1162.5 L275.6,1167.0 L271.8,1170.0 L267.9,1172.7 L263.5,1176.4 L258.2,1182.4 L252.2,1189.7 L246.4,1196.1 L241.6,1199.4 L238.4,1198.5 L236.1,1194.6 L234.1,1189.5 L231.6,1184.4 L228.4,1178.8 L224.9,1172.1 L221.3,1168.7 L217.7,1168.1 L214.4,1168.5 L211.3,1171.3 L207.9,1175.8 L203.7,1178.5 L198.3,1177.6 L192.0,1174.5 L185.6,1170.7 L179.8,1167.2 L174.7,1164.7 L170.0,1162.4 L165.7,1159.6 L161.9,1157.6 L158.8,1153.9 L156.4,1148.8 L154.2,1142.7 L151.9,1136.3 L149.4,1129.0 L146.9,1119.5 L144.5,1109.9 L142.0,1100.8 L139.3,1091.7 L136.4,1082.5 L133.8,1074.4 L132.0,1068.8Z" fill="#fcebe2"/>
<path d="M1576.0,1183.7 L1580.6,1183.3 L1587.3,1182.8 L1594.5,1182.1 L1600.7,1181.2 L1605.6,1180.1 L1610.1,1178.8 L1614.0,1177.3 L1617.6,1175.3 L1620.7,1172.9 L1623.4,1170.0 L1625.8,1166.9 L1627.8,1163.4 L1629.4,1159.4 L1630.6,1152.4 L1631.6,1143.3 L1632.8,1133.9 L1634.2,1124.0 L1635.5,1114.1 L1637.1,1104.4 L1638.8,1095.0 L1640.8,1090.4 L1643.1,1093.3 L1645.5,1097.0 L1648.0,1100.4 L1650.5,1103.8 L1653.0,1107.5 L1655.6,1110.8 L1658.3,1113.2 L1661.0,1113.2 L1663.8,1111.1 L1666.8,1108.6 L1670.0,1106.4 L1673.5,1104.6 L1677.3,1102.9 L1681.2,1101.4 L1685.4,1100.5 L1689.9,1100.3 L1694.6,1103.0 L1699.4,1106.0 L1704.0,1108.8 L1708.3,1111.2 L1712.4,1113.5 L1716.6,1115.8 L1721.0,1117.8 L1726.2,1119.7 L1731.8,1121.3 L1737.1,1123.0 L1741.3,1125.6 L1743.7,1128.9 L1745.0,1131.3 L1746.0,1134.1 L1748.0,1138.3 L1751.1,1144.7 L1754.7,1152.4 L1758.8,1160.8 L1763.3,1165.5 L1768.4,1168.2 L1774.0,1170.5 L1779.8,1172.4 L1785.3,1174.0 L1790.4,1175.3 L1795.2,1176.4 L1800.2,1177.1 L1805.6,1177.4 L1811.8,1177.0 L1818.5,1175.9 L1825.1,1175.0 L1831.0,1174.8 L1835.5,1175.9 L1839.2,1177.7 L1843.0,1179.6 L1848.0,1180.7 L1855.4,1180.8 L1864.3,1180.2 L1872.7,1179.5 L1878.5,1179.0 L1878.5,1195.0 L1872.7,1195.5 L1864.3,1196.2 L1855.4,1196.8 L1848.0,1196.7 L1843.0,1195.6 L1839.2,1193.7 L1835.5,1191.9 L1831.0,1190.8 L1825.1,1191.0 L1818.5,1191.9 L1811.8,1193.0 L1805.6,1193.4 L1800.2,1193.1 L1795.2,1192.4 L1790.4,1191.3 L1785.3,1190.0 L1779.8,1188.4 L1774.0,1186.5 L1768.4,1184.2 L1763.3,1181.5 L1758.8,1179.0 L1754.7,1178.5 L1751.1,1177.7 L1748.0,1177.1 L1746.0,1176.6 L1745.0,1175.9 L1743.7,1175.8 L1741.3,1177.1 L1737.1,1179.1 L1731.8,1181.2 L1726.2,1183.6 L1721.0,1185.5 L1716.6,1186.6 L1712.4,1187.4 L1708.3,1188.0 L1704.0,1188.7 L1699.4,1189.2 L1694.6,1189.7 L1689.9,1190.2 L1685.4,1188.6 L1681.2,1187.9 L1677.3,1187.8 L1673.5,1188.0 L1670.0,1188.4 L1666.8,1189.3 L1663.8,1190.6 L1661.0,1191.7 L1658.3,1189.8 L1655.6,1185.3 L1653.0,1179.9 L1650.5,1174.2 L1648.0,1168.8 L1645.5,1163.4 L1643.1,1157.9 L1640.8,1153.1 L1638.8,1150.8 L1637.1,1151.1 L1635.5,1152.9 L1634.2,1155.6 L1632.8,1158.5 L1631.6,1161.6 L1630.6,1165.3 L1629.4,1169.4 L1627.8,1173.4 L1625.8,1176.9 L1623.4,1180.0 L1620.7,1182.9 L1617.6,1185.3 L1614.0,1187.3 L1610.1,1188.8 L1605.6,1190.1 L1600.7,1191.2 L1594.5,1192.1 L1587.3,1192.8 L1580.6,1193.3 L1576.0,1193.7Z" fill="#fdf2ed"/>
<path d="M132.0,1174.9 L133.8,1181.3 L136.4,1190.4 L139.3,1200.7 L142.0,1210.5 L144.5,1219.8 L147.1,1229.3 L149.6,1238.5 L151.9,1247.1 L153.8,1255.1 L155.5,1262.6 L157.4,1269.5 L159.9,1275.6 L163.0,1281.0 L166.6,1285.7 L170.8,1289.9 L175.8,1293.5 L182.3,1298.0 L190.0,1302.8 L197.6,1306.7 L203.7,1308.5 L207.8,1306.5 L210.7,1298.8 L213.1,1291.5 L215.7,1286.8 L218.6,1291.7 L221.5,1299.7 L224.5,1308.1 L227.6,1313.4 L230.9,1319.0 L234.2,1325.2 L237.8,1330.3 L241.6,1332.4 L245.8,1330.3 L250.2,1325.3 L254.8,1319.1 L259.5,1313.4 L264.4,1308.9 L269.4,1304.6 L274.5,1299.8 L279.4,1293.5 L284.2,1283.9 L288.9,1268.6 L293.4,1241.1 L297.4,1222.0 L300.8,1228.1 L303.8,1239.0 L306.6,1248.4 L309.3,1247.6 L311.9,1241.0 L314.3,1231.1 L316.7,1219.1 L319.3,1205.8 L322.2,1189.6 L325.3,1170.7 L328.4,1155.9 L331.3,1145.8 L333.7,1140.3 L335.9,1137.7 L338.2,1136.9 L341.2,1136.9 L345.1,1138.1 L349.6,1140.9 L354.4,1143.9 L359.2,1145.8 L364.3,1146.1 L369.8,1145.6 L374.9,1144.9 L379.1,1144.8 L381.7,1144.7 L383.2,1144.6 L384.6,1145.5 L387.0,1148.8 L390.9,1155.3 L395.7,1175.8 L400.7,1200.9 L405.0,1223.7 L408.4,1236.5 L411.4,1249.0 L414.1,1261.0 L417.0,1272.5 L419.9,1281.7 L422.8,1289.4 L425.8,1296.3 L428.9,1301.5 L432.2,1304.3 L435.6,1305.1 L439.2,1305.7 L442.9,1307.5 L446.6,1311.7 L450.5,1317.1 L454.5,1322.2 L458.8,1325.4 L463.5,1326.4 L468.6,1326.0 L473.8,1324.3 L478.7,1321.4 L483.2,1316.2 L487.4,1309.0 L491.7,1302.1 L496.7,1297.5 L502.7,1296.2 L509.3,1296.8 L515.9,1298.6 L521.9,1300.5 L526.7,1302.7 L530.9,1305.6 L535.0,1308.6 L539.9,1311.5 L546.1,1314.7 L553.1,1318.3 L560.0,1321.0 L565.8,1321.4 L570.1,1317.9 L573.5,1311.5 L576.5,1305.4 L579.7,1302.5 L583.1,1305.6 L586.5,1312.4 L589.9,1318.5 L593.7,1319.4 L597.9,1312.7 L602.4,1301.1 L607.0,1288.2 L611.6,1277.6 L616.1,1270.3 L620.5,1264.4 L625.0,1259.1 L629.5,1253.7 L633.9,1247.3 L638.2,1240.5 L642.7,1231.3 L647.5,1223.3 L653.0,1229.5 L659.0,1234.2 L664.7,1238.1 L669.4,1242.6 L672.7,1247.5 L675.0,1253.3 L677.0,1259.9 L679.4,1267.4 L682.2,1276.2 L685.2,1286.3 L688.3,1296.4 L691.3,1305.1 L694.2,1312.8 L697.0,1319.8 L700.0,1325.4 L703.3,1328.9 L707.0,1329.2 L711.0,1327.1 L715.1,1324.3 L719.2,1322.8 L723.1,1323.8 L726.8,1326.2 L730.8,1327.8 L735.2,1326.6 L740.4,1320.6 L746.0,1311.4 L751.8,1302.3 L757.1,1296.5 L761.8,1295.4 L766.2,1297.1 L770.5,1300.0 L775.0,1302.3 L779.9,1303.8 L785.1,1305.4 L790.2,1306.9 L795.0,1308.1 L799.3,1308.6 L803.2,1308.6 L807.0,1308.9 L810.9,1309.9 L814.9,1313.1 L818.9,1317.6 L822.9,1321.2 L826.9,1321.7 L830.8,1317.8 L834.6,1310.9 L838.5,1302.9 L842.8,1295.6 L847.6,1289.0 L852.7,1282.2 L857.9,1271.9 L862.7,1260.3 L866.9,1251.3 L870.9,1245.0 L874.7,1243.3 L878.7,1242.8 L882.9,1244.6 L887.1,1248.5 L891.5,1251.5 L896.0,1251.0 L900.9,1244.0 L906.0,1232.8 L911.1,1222.1 L915.9,1216.6 L920.2,1223.2 L924.2,1234.6 L928.1,1246.9 L931.8,1256.4 L935.4,1262.1 L938.9,1266.1 L942.4,1267.6 L945.8,1268.1 L949.2,1267.0 L952.6,1264.4 L956.1,1262.5 L959.7,1263.5 L963.2,1273.7 L966.6,1287.0 L970.5,1302.0 L975.7,1311.5 L982.7,1317.0 L990.9,1322.1 L999.5,1326.0 L1007.6,1328.2 L1015.1,1328.5 L1022.4,1327.3 L1029.3,1324.6 L1035.5,1320.8 L1040.8,1315.9 L1045.5,1309.7 L1049.6,1302.2 L1053.4,1293.3 L1056.8,1282.2 L1059.8,1269.1 L1062.6,1252.3 L1065.3,1224.9 L1067.8,1199.0 L1070.2,1174.5 L1072.6,1151.7 L1075.3,1134.5 L1078.5,1152.4 L1082.1,1176.0 L1085.7,1203.0 L1089.3,1223.7 L1092.8,1234.0 L1096.4,1246.8 L1099.9,1260.1 L1103.2,1272.0 L1106.1,1282.3 L1108.7,1292.0 L1111.5,1300.7 L1115.2,1308.2 L1120.0,1314.7 L1125.5,1320.3 L1131.4,1324.4 L1137.1,1326.7 L1142.8,1326.6 L1148.5,1324.6 L1154.1,1321.2 L1159.0,1317.2 L1163.0,1311.2 L1166.4,1298.6 L1169.6,1280.9 L1173.0,1266.5 L1176.9,1282.0 L1181.1,1302.6 L1185.2,1314.0 L1188.9,1319.4 L1192.1,1319.7 L1195.0,1317.1 L1197.9,1314.2 L1200.9,1313.4 L1204.2,1316.1 L1207.6,1320.7 L1211.1,1325.1 L1214.8,1327.4 L1218.7,1326.1 L1222.8,1322.7 L1226.9,1319.1 L1230.8,1317.4 L1234.4,1318.9 L1237.8,1322.2 L1241.2,1325.6 L1244.7,1327.4 L1248.1,1327.2 L1251.3,1325.8 L1255.1,1323.7 L1260.0,1321.4 L1266.9,1318.9 L1275.3,1316.1 L1283.6,1312.9 L1290.0,1309.5 L1294.0,1306.1 L1296.4,1302.5 L1298.1,1298.4 L1300.0,1293.5 L1302.1,1287.1 L1304.0,1279.7 L1305.8,1272.2 L1307.8,1265.6 L1309.9,1255.4 L1312.1,1244.8 L1314.4,1235.5 L1316.8,1229.1 L1319.4,1236.8 L1322.1,1248.8 L1324.9,1262.4 L1327.8,1271.6 L1330.6,1277.7 L1333.3,1283.9 L1336.3,1289.9 L1339.7,1295.5 L1343.6,1300.5 L1348.0,1305.1 L1352.6,1309.3 L1357.7,1313.4 L1363.0,1317.9 L1368.7,1322.5 L1374.8,1326.1 L1381.6,1327.4 L1389.6,1324.9 L1398.5,1319.7 L1407.5,1314.4 L1415.5,1311.5 L1421.9,1312.3 L1427.3,1315.2 L1432.8,1318.7 L1439.4,1321.4 L1448.3,1322.9 L1458.7,1324.0 L1468.3,1324.8 L1475.0,1325.4 L1475.0,1337.4 L1468.3,1336.8 L1458.7,1336.0 L1448.3,1334.9 L1439.4,1333.4 L1432.8,1330.7 L1427.3,1327.2 L1421.9,1324.3 L1415.5,1323.5 L1407.5,1326.4 L1398.5,1331.7 L1389.6,1336.9 L1381.6,1339.4 L1374.8,1338.1 L1368.7,1334.5 L1363.0,1329.9 L1357.7,1325.4 L1352.6,1321.3 L1348.0,1317.1 L1343.6,1312.5 L1339.7,1307.5 L1336.3,1301.9 L1333.3,1295.9 L1330.6,1289.7 L1327.8,1283.6 L1324.9,1276.9 L1322.1,1269.9 L1319.4,1264.2 L1316.8,1261.7 L1314.4,1262.4 L1312.1,1266.3 L1309.9,1271.9 L1307.8,1277.6 L1305.8,1284.2 L1304.0,1291.7 L1302.1,1299.1 L1300.0,1305.5 L1298.1,1310.4 L1296.4,1314.5 L1294.0,1318.1 L1290.0,1321.5 L1283.6,1324.9 L1275.3,1328.1 L1266.9,1330.9 L1260.0,1333.4 L1255.1,1335.7 L1251.3,1337.8 L1248.1,1339.2 L1244.7,1339.4 L1241.2,1337.6 L1237.8,1334.2 L1234.4,1330.9 L1230.8,1329.4 L1226.9,1331.1 L1222.8,1334.7 L1218.7,1338.1 L1214.8,1339.4 L1211.1,1337.1 L1207.6,1332.7 L1204.2,1328.1 L1200.9,1325.4 L1197.9,1326.2 L1195.0,1329.1 L1192.1,1331.7 L1188.9,1331.4 L1185.2,1326.0 L1181.1,1320.3 L1176.9,1325.5 L1173.0,1334.5 L1169.6,1324.8 L1166.4,1320.2 L1163.0,1323.3 L1159.0,1329.6 L1154.1,1333.8 L1148.5,1337.4 L1142.8,1339.8 L1137.1,1340.1 L1131.4,1338.2 L1125.5,1334.3 L1120.0,1329.1 L1115.2,1322.8 L1111.5,1315.5 L1108.7,1306.9 L1106.1,1297.4 L1103.2,1287.2 L1099.9,1275.5 L1096.4,1262.4 L1092.8,1249.8 L1089.3,1239.7 L1085.7,1241.1 L1082.1,1249.6 L1078.5,1260.3 L1075.3,1273.6 L1072.6,1269.3 L1070.2,1268.1 L1067.8,1269.4 L1065.3,1269.9 L1062.6,1270.3 L1059.8,1281.2 L1056.8,1294.4 L1053.4,1305.7 L1049.6,1314.8 L1045.5,1322.4 L1040.8,1328.8 L1035.5,1334.0 L1029.3,1338.1 L1022.4,1341.0 L1015.1,1342.6 L1007.6,1342.6 L999.5,1340.8 L990.9,1337.2 L982.7,1332.6 L975.7,1327.3 L970.5,1322.7 L966.6,1320.2 L963.2,1317.6 L959.7,1317.5 L956.1,1317.3 L952.6,1319.9 L949.2,1323.1 L945.8,1324.9 L942.4,1325.2 L938.9,1324.8 L935.4,1323.3 L931.8,1320.2 L928.1,1313.3 L924.2,1303.7 L920.2,1295.2 L915.9,1291.6 L911.1,1295.1 L906.0,1303.7 L900.9,1312.8 L896.0,1317.8 L891.5,1316.4 L887.1,1311.5 L882.9,1305.9 L878.7,1302.4 L874.7,1301.3 L870.9,1301.3 L866.9,1299.1 L862.7,1296.8 L857.9,1295.6 L852.7,1298.2 L847.6,1304.8 L842.8,1311.4 L838.5,1318.6 L834.6,1326.5 L830.8,1333.3 L826.9,1337.1 L822.9,1336.5 L818.9,1332.8 L814.9,1328.3 L810.9,1325.1 L807.0,1323.9 L803.2,1323.6 L799.3,1323.5 L795.0,1322.9 L790.2,1321.6 L785.1,1320.1 L779.9,1318.3 L775.0,1316.7 L770.5,1314.3 L766.2,1311.4 L761.8,1309.5 L757.1,1310.5 L751.8,1316.2 L746.0,1325.2 L740.4,1334.3 L735.2,1340.2 L730.8,1341.3 L726.8,1339.6 L723.1,1337.2 L719.2,1336.0 L715.1,1337.5 L711.0,1340.2 L707.0,1342.3 L703.3,1341.9 L700.0,1338.3 L697.0,1332.6 L694.2,1325.6 L691.3,1317.9 L688.3,1309.0 L685.2,1298.9 L682.2,1288.8 L679.4,1279.8 L677.0,1272.4 L675.0,1265.7 L672.7,1259.8 L669.4,1254.8 L664.7,1250.3 L659.0,1246.3 L653.0,1244.3 L647.5,1245.6 L642.7,1247.6 L638.2,1252.5 L633.9,1259.3 L629.5,1265.7 L625.0,1271.1 L620.5,1276.4 L616.1,1282.3 L611.6,1289.6 L607.0,1300.2 L602.4,1313.1 L597.9,1324.7 L593.7,1331.4 L589.9,1330.5 L586.5,1324.4 L583.1,1317.6 L579.7,1314.5 L576.5,1317.4 L573.5,1323.5 L570.1,1329.9 L565.8,1333.4 L560.0,1333.0 L553.1,1330.3 L546.1,1326.7 L539.9,1323.5 L535.0,1320.6 L530.9,1317.6 L526.7,1314.7 L521.9,1312.5 L515.9,1310.6 L509.3,1308.8 L502.7,1308.2 L496.7,1309.5 L491.7,1314.1 L487.4,1321.0 L483.2,1328.2 L478.7,1333.4 L473.8,1336.3 L468.6,1338.0 L463.5,1338.4 L458.8,1337.4 L454.5,1334.2 L450.5,1329.1 L446.6,1323.7 L442.9,1319.5 L439.2,1317.7 L435.6,1317.1 L432.2,1316.3 L428.9,1313.5 L425.8,1308.3 L422.8,1301.4 L419.9,1293.7 L417.0,1286.7 L414.1,1281.3 L411.4,1275.2 L408.4,1269.1 L405.0,1263.7 L400.7,1269.1 L395.7,1276.3 L390.9,1280.3 L387.0,1273.8 L384.6,1270.5 L383.2,1269.6 L381.7,1269.7 L379.1,1269.8 L374.9,1269.9 L369.8,1270.6 L364.3,1271.1 L359.2,1270.8 L354.4,1268.9 L349.6,1265.9 L345.1,1263.1 L341.2,1261.9 L338.2,1261.9 L335.9,1262.7 L333.7,1265.3 L331.3,1270.8 L328.4,1280.9 L325.3,1293.4 L322.2,1302.2 L319.3,1309.0 L316.7,1313.9 L314.3,1318.1 L311.9,1320.1 L309.3,1318.4 L306.6,1310.4 L303.8,1307.6 L300.8,1308.7 L297.4,1316.4 L293.4,1303.2 L288.9,1289.0 L284.2,1295.9 L279.4,1305.5 L274.5,1311.8 L269.4,1316.6 L264.4,1320.9 L259.5,1325.4 L254.8,1331.1 L250.2,1337.3 L245.8,1342.3 L241.6,1344.4 L237.8,1342.3 L234.2,1337.2 L230.9,1331.0 L227.6,1325.4 L224.5,1320.1 L221.5,1316.3 L218.6,1313.8 L215.7,1313.3 L213.1,1313.0 L210.7,1315.8 L207.8,1318.5 L203.7,1320.5 L197.6,1318.7 L190.0,1314.8 L182.3,1310.0 L175.8,1305.5 L170.8,1301.9 L166.6,1299.7 L163.0,1297.2 L159.9,1293.6 L157.4,1288.1 L155.5,1281.7 L153.8,1274.6 L151.9,1267.1 L149.6,1259.1 L147.1,1250.5 L144.5,1241.7 L142.0,1233.0 L139.3,1223.9 L136.4,1214.3 L133.8,1205.8 L132.0,1199.9Z" fill="#f8dccf"/>
<path d="M1576.5,1321.9 L1584.0,1322.2 L1595.0,1322.6 L1606.2,1322.7 L1614.8,1321.9 L1619.6,1320.1 L1622.2,1317.7 L1624.0,1314.5 L1625.8,1310.9 L1627.9,1306.2 L1629.8,1300.7 L1631.5,1288.7 L1633.1,1277.2 L1634.4,1268.0 L1635.5,1260.5 L1636.8,1253.3 L1638.6,1244.8 L1641.2,1240.3 L1644.3,1243.9 L1647.8,1247.9 L1651.4,1251.1 L1655.4,1253.5 L1659.7,1255.7 L1663.9,1257.3 L1667.9,1258.0 L1671.4,1257.4 L1674.7,1255.6 L1677.7,1253.7 L1680.7,1252.5 L1683.3,1252.0 L1685.5,1251.8 L1688.0,1252.1 L1691.6,1253.4 L1696.6,1256.5 L1702.6,1260.7 L1709.0,1264.9 L1715.4,1268.0 L1722.1,1269.3 L1729.1,1269.5 L1735.7,1269.6 L1741.0,1270.4 L1744.4,1274.8 L1746.4,1279.3 L1748.0,1283.7 L1750.0,1288.8 L1752.4,1294.8 L1754.9,1301.3 L1757.7,1304.4 L1761.0,1307.0 L1765.1,1309.4 L1769.7,1311.6 L1774.6,1313.6 L1779.4,1315.3 L1783.6,1316.7 L1787.4,1317.8 L1791.8,1318.6 L1797.7,1319.0 L1805.8,1318.8 L1815.4,1318.0 L1825.3,1317.3 L1834.2,1317.1 L1841.9,1317.7 L1849.1,1318.9 L1855.7,1320.1 L1861.6,1320.8 L1867.1,1320.9 L1872.0,1320.6 L1876.1,1320.2 L1879.0,1319.9 L1879.0,1335.9 L1876.1,1336.2 L1872.0,1336.6 L1867.1,1336.9 L1861.6,1336.8 L1855.7,1336.1 L1849.1,1334.9 L1841.9,1333.7 L1834.2,1333.1 L1825.3,1333.3 L1815.4,1334.0 L1805.8,1334.8 L1797.7,1335.0 L1791.8,1334.6 L1787.4,1333.8 L1783.6,1332.7 L1779.4,1331.3 L1774.6,1329.6 L1769.7,1327.6 L1765.1,1325.4 L1761.0,1323.0 L1757.7,1320.4 L1754.9,1317.6 L1752.4,1319.3 L1750.0,1321.3 L1748.0,1322.8 L1746.4,1323.7 L1744.4,1326.0 L1741.0,1330.0 L1735.7,1332.2 L1729.1,1336.0 L1722.1,1339.8 L1715.4,1342.4 L1709.0,1343.0 L1702.6,1342.5 L1696.6,1341.7 L1691.6,1341.5 L1688.0,1341.4 L1685.5,1341.3 L1683.3,1341.8 L1680.7,1342.6 L1677.7,1344.2 L1674.7,1346.5 L1671.4,1348.6 L1667.9,1349.7 L1663.9,1349.4 L1659.7,1348.3 L1655.4,1346.7 L1651.4,1344.7 L1647.8,1341.9 L1644.3,1338.3 L1641.2,1335.2 L1638.6,1328.1 L1636.8,1321.4 L1635.5,1318.2 L1634.4,1316.7 L1633.1,1314.9 L1631.5,1313.0 L1629.8,1312.7 L1627.9,1318.2 L1625.8,1322.9 L1624.0,1326.5 L1622.2,1329.7 L1619.6,1332.1 L1614.8,1333.9 L1606.2,1334.7 L1595.0,1334.6 L1584.0,1334.2 L1576.5,1333.9Z" fill="#fcefe8"/>
<path d="M133.0,1299.9 L135.0,1308.5 L137.8,1320.9 L141.0,1335.0 L143.9,1348.9 L146.5,1362.9 L149.0,1377.5 L151.4,1391.7 L153.9,1404.2 L156.1,1414.5 L158.1,1423.3 L160.5,1430.9 L163.8,1435.8 L168.3,1439.6 L173.5,1442.3 L179.5,1444.1 L185.8,1445.4 L193.1,1447.3 L201.4,1448.5 L209.3,1449.5 L215.7,1451.4 L219.9,1454.7 L222.6,1458.4 L224.9,1462.5 L227.6,1467.2 L230.9,1473.9 L234.2,1482.1 L237.8,1489.0 L241.6,1491.9 L245.8,1489.1 L250.2,1482.2 L254.8,1474.0 L259.5,1467.1 L264.3,1459.2 L269.3,1452.5 L274.4,1445.3 L279.4,1436.5 L284.6,1423.8 L290.0,1405.4 L295.0,1388.1 L299.4,1376.3 L302.8,1379.4 L305.5,1388.2 L307.9,1397.1 L310.3,1401.8 L312.6,1401.5 L314.7,1401.7 L316.9,1400.4 L319.3,1397.5 L322.1,1381.2 L325.2,1357.2 L328.4,1333.8 L331.3,1316.6 L333.8,1307.1 L336.0,1302.1 L338.3,1299.3 L341.2,1296.9 L344.5,1300.3 L348.2,1305.6 L352.4,1311.2 L357.2,1315.4 L363.2,1316.5 L370.2,1315.8 L377.1,1315.6 L383.1,1319.1 L387.9,1327.8 L391.9,1339.9 L395.5,1352.8 L399.0,1364.7 L402.4,1375.2 L405.5,1385.1 L408.4,1394.8 L411.0,1402.4 L413.2,1409.7 L415.1,1417.3 L417.0,1425.2 L419.0,1433.3 L421.3,1442.5 L423.8,1452.5 L426.4,1461.6 L428.9,1468.0 L431.2,1470.0 L433.3,1469.1 L435.7,1467.8 L438.9,1468.8 L443.2,1473.9 L448.2,1481.3 L453.6,1488.3 L458.8,1492.3 L463.8,1492.4 L468.9,1490.2 L473.9,1486.1 L478.7,1480.9 L483.5,1473.1 L488.2,1462.9 L492.7,1453.2 L496.7,1446.8 L500.0,1445.2 L502.8,1446.3 L505.5,1448.4 L508.6,1449.4 L512.0,1448.6 L515.6,1447.1 L519.5,1445.9 L523.9,1445.9 L529.0,1448.8 L534.6,1453.7 L540.3,1458.8 L545.8,1462.7 L551.1,1465.5 L556.3,1468.0 L561.3,1471.0 L565.8,1471.8 L569.7,1468.2 L573.1,1461.4 L576.4,1455.4 L579.7,1453.2 L583.1,1458.6 L586.5,1469.5 L589.9,1479.7 L593.7,1482.9 L597.9,1475.8 L602.4,1462.4 L607.0,1447.2 L611.6,1434.4 L616.2,1425.1 L620.8,1416.9 L625.3,1409.6 L629.5,1402.8 L633.0,1396.0 L636.0,1389.3 L639.3,1384.1 L643.5,1381.7 L649.4,1383.1 L656.5,1387.2 L663.5,1393.0 L669.4,1399.6 L673.8,1407.3 L677.3,1416.3 L680.3,1426.0 L683.4,1435.5 L686.5,1445.3 L689.5,1455.6 L692.4,1465.3 L695.3,1473.3 L698.2,1479.5 L701.2,1484.5 L704.2,1487.9 L707.3,1489.3 L710.6,1487.4 L714.0,1482.9 L717.5,1478.1 L721.2,1475.3 L725.0,1476.4 L728.8,1479.8 L732.9,1482.4 L737.2,1481.3 L741.9,1473.8 L746.8,1462.1 L751.9,1450.5 L757.1,1443.4 L762.5,1442.8 L768.2,1446.0 L773.8,1450.7 L779.0,1454.8 L784.0,1458.3 L788.9,1462.3 L793.3,1465.8 L797.0,1467.9 L799.4,1467.4 L800.8,1465.1 L802.3,1463.1 L805.0,1463.4 L809.6,1467.6 L815.5,1474.6 L821.5,1480.9 L826.9,1483.3 L831.2,1479.4 L835.0,1472.1 L838.7,1463.3 L842.8,1455.0 L847.5,1446.7 L852.6,1437.8 L857.8,1429.6 L862.7,1423.6 L867.4,1420.3 L872.0,1418.9 L876.4,1418.8 L880.7,1419.2 L884.6,1421.5 L888.2,1425.8 L891.9,1429.6 L896.0,1431.4 L900.7,1428.6 L905.9,1423.4 L911.1,1418.2 L915.9,1415.5 L920.2,1418.7 L924.2,1424.2 L928.1,1429.9 L931.8,1433.6 L935.4,1434.7 L938.8,1434.5 L942.2,1433.8 L945.8,1433.3 L949.7,1432.8 L953.7,1431.9 L957.8,1431.7 L961.7,1433.2 L965.3,1439.4 L968.7,1448.4 L972.1,1458.0 L975.7,1467.1 L979.5,1472.0 L983.4,1476.5 L987.4,1480.5 L991.6,1484.0 L995.8,1487.1 L1000.0,1489.8 L1004.5,1491.8 L1009.5,1492.9 L1015.1,1493.1 L1021.2,1492.6 L1027.5,1491.0 L1033.5,1488.0 L1039.4,1483.4 L1045.2,1477.3 L1050.7,1470.3 L1055.4,1463.2 L1059.1,1455.8 L1062.1,1442.8 L1064.7,1428.4 L1067.3,1414.0 L1069.9,1398.7 L1072.3,1383.1 L1074.7,1368.9 L1077.3,1365.2 L1080.2,1367.5 L1083.2,1373.5 L1086.3,1381.4 L1089.3,1390.3 L1092.3,1404.3 L1095.3,1419.6 L1098.2,1435.2 L1101.2,1447.5 L1103.9,1455.0 L1106.5,1462.5 L1109.4,1469.4 L1113.2,1475.4 L1118.5,1480.8 L1124.8,1485.7 L1131.3,1489.4 L1137.1,1491.3 L1142.1,1490.7 L1146.7,1488.0 L1150.9,1484.5 L1155.0,1481.3 L1158.7,1477.9 L1162.1,1474.1 L1165.5,1469.9 L1169.0,1460.4 L1172.9,1453.0 L1176.9,1463.6 L1181.0,1475.1 L1185.0,1479.3 L1189.0,1479.0 L1193.1,1477.5 L1197.1,1476.1 L1200.9,1476.4 L1204.5,1479.7 L1207.8,1484.9 L1211.2,1489.8 L1214.8,1492.3 L1218.7,1491.0 L1222.8,1487.2 L1226.9,1483.3 L1230.8,1481.3 L1234.3,1482.5 L1237.5,1485.5 L1240.9,1488.7 L1244.7,1490.3 L1249.0,1490.0 L1253.6,1488.8 L1258.6,1486.7 L1264.0,1484.0 L1270.3,1480.8 L1277.2,1476.9 L1284.1,1472.4 L1290.0,1467.4 L1294.7,1461.5 L1298.7,1454.8 L1302.2,1447.9 L1305.8,1440.5 L1309.3,1429.2 L1312.5,1417.7 L1315.9,1407.8 L1319.8,1403.8 L1324.4,1408.5 L1329.5,1417.6 L1334.7,1428.2 L1339.7,1437.5 L1344.1,1445.2 L1348.3,1452.7 L1352.7,1459.5 L1357.7,1465.2 L1363.5,1470.2 L1369.8,1474.6 L1376.5,1478.1 L1383.6,1480.4 L1391.3,1481.1 L1399.7,1480.3 L1407.9,1479.3 L1415.5,1479.3 L1422.1,1479.8 L1428.2,1481.2 L1433.9,1482.9 L1439.4,1484.1 L1444.8,1484.4 L1449.9,1484.3 L1454.7,1484.2 L1459.3,1484.8 L1463.9,1486.4 L1468.5,1488.6 L1472.4,1490.8 L1475.2,1492.3 L1475.2,1504.3 L1472.4,1503.4 L1468.5,1502.1 L1463.9,1500.9 L1459.3,1500.4 L1454.7,1501.0 L1449.9,1502.1 L1444.8,1503.5 L1439.4,1504.4 L1433.9,1504.5 L1428.2,1504.2 L1422.1,1504.1 L1415.5,1505.2 L1407.9,1507.4 L1399.7,1510.8 L1391.3,1514.0 L1383.6,1515.6 L1376.5,1515.3 L1369.8,1513.8 L1363.5,1511.2 L1357.7,1507.7 L1352.7,1503.2 L1348.3,1497.4 L1344.1,1490.9 L1339.7,1484.3 L1334.7,1476.2 L1329.5,1466.9 L1324.4,1459.0 L1319.8,1455.3 L1315.9,1454.0 L1312.5,1454.5 L1309.3,1457.1 L1305.8,1458.7 L1302.2,1463.9 L1298.7,1470.8 L1294.7,1477.5 L1290.0,1483.4 L1284.1,1488.4 L1277.2,1492.9 L1270.3,1496.8 L1264.0,1500.0 L1258.6,1502.7 L1253.6,1504.8 L1249.0,1506.0 L1244.7,1506.3 L1240.9,1504.7 L1237.5,1501.5 L1234.3,1498.5 L1230.8,1497.3 L1226.9,1499.3 L1222.8,1503.2 L1218.7,1507.0 L1214.8,1508.3 L1211.2,1505.8 L1207.8,1500.9 L1204.5,1495.7 L1200.9,1492.4 L1197.1,1492.1 L1193.1,1493.5 L1189.0,1495.0 L1185.0,1495.3 L1181.0,1495.8 L1176.9,1502.3 L1172.9,1508.3 L1169.0,1496.4 L1165.5,1488.1 L1162.1,1490.1 L1158.7,1493.9 L1155.0,1497.3 L1150.9,1500.5 L1146.7,1504.0 L1142.1,1506.7 L1137.1,1507.3 L1131.3,1505.4 L1124.8,1501.7 L1118.5,1496.8 L1113.2,1491.4 L1109.4,1485.4 L1106.5,1478.5 L1103.9,1471.0 L1101.2,1463.5 L1098.2,1455.8 L1095.3,1447.7 L1092.3,1440.0 L1089.3,1433.5 L1086.3,1433.2 L1083.2,1434.1 L1080.2,1436.8 L1077.3,1442.7 L1074.7,1451.6 L1072.3,1454.8 L1069.9,1459.5 L1067.3,1463.1 L1064.7,1465.6 L1062.1,1468.3 L1059.1,1471.8 L1055.4,1479.4 L1050.7,1486.8 L1045.2,1494.0 L1039.4,1500.4 L1033.5,1505.3 L1027.5,1508.5 L1021.2,1510.4 L1015.1,1511.3 L1009.5,1511.3 L1004.5,1510.5 L1000.0,1508.7 L995.8,1506.2 L991.6,1503.3 L987.4,1500.0 L983.4,1496.1 L979.5,1491.8 L975.7,1487.7 L972.1,1486.4 L968.7,1484.1 L965.3,1482.5 L961.7,1481.7 L957.8,1481.6 L953.7,1483.3 L949.7,1485.6 L945.8,1487.6 L942.2,1489.3 L938.8,1491.3 L935.4,1492.7 L931.8,1493.0 L928.1,1491.0 L924.2,1487.5 L920.2,1484.3 L915.9,1483.5 L911.1,1484.3 L905.9,1487.4 L900.7,1490.5 L896.0,1491.4 L891.9,1490.3 L888.2,1487.0 L884.6,1483.2 L880.7,1479.3 L876.4,1475.5 L872.0,1472.1 L867.4,1469.8 L862.7,1469.4 L857.8,1472.4 L852.6,1477.4 L847.5,1483.3 L842.8,1488.7 L838.7,1494.5 L835.0,1500.9 L831.2,1505.9 L826.9,1507.3 L821.5,1506.9 L815.5,1502.8 L809.6,1498.0 L805.0,1495.4 L802.3,1494.9 L800.8,1496.9 L799.4,1499.2 L797.0,1499.6 L793.3,1497.3 L788.9,1493.7 L784.0,1489.5 L779.0,1485.7 L773.8,1481.4 L768.2,1476.4 L762.5,1473.1 L757.1,1473.4 L751.9,1480.6 L746.8,1492.3 L741.9,1504.1 L737.2,1511.6 L732.9,1512.8 L728.8,1510.3 L725.0,1507.0 L721.2,1505.9 L717.5,1508.8 L714.0,1513.7 L710.6,1518.3 L707.3,1520.2 L704.2,1518.8 L701.2,1515.5 L698.2,1510.6 L695.3,1504.4 L692.4,1496.5 L689.5,1486.8 L686.5,1476.6 L683.4,1466.8 L680.3,1457.3 L677.3,1447.7 L673.8,1438.7 L669.4,1431.1 L663.5,1424.6 L656.5,1418.9 L649.4,1415.0 L643.5,1413.7 L639.3,1415.3 L636.0,1419.8 L633.0,1425.8 L629.5,1431.9 L625.3,1437.8 L620.8,1444.1 L616.2,1451.3 L611.6,1459.6 L607.0,1471.4 L602.4,1485.7 L597.9,1498.1 L593.7,1504.2 L589.9,1500.2 L586.5,1489.3 L583.1,1477.7 L579.7,1471.6 L576.4,1475.1 L573.1,1484.3 L569.7,1494.5 L565.8,1502.0 L561.3,1505.7 L556.3,1507.7 L551.1,1505.2 L545.8,1502.0 L540.3,1497.8 L534.6,1492.3 L529.0,1487.0 L523.9,1483.2 L519.5,1481.9 L515.6,1481.9 L512.0,1482.3 L508.6,1482.1 L505.5,1480.1 L502.8,1477.1 L500.0,1475.2 L496.7,1476.1 L492.7,1481.7 L488.2,1490.4 L483.5,1499.6 L478.7,1506.4 L473.9,1510.7 L468.9,1513.7 L463.8,1514.9 L458.8,1513.7 L453.6,1508.6 L448.2,1500.5 L443.2,1492.0 L438.9,1486.0 L435.7,1484.4 L433.3,1485.2 L431.2,1485.7 L428.9,1483.1 L426.4,1476.2 L423.8,1466.6 L421.3,1456.1 L419.0,1446.4 L417.0,1437.8 L415.1,1429.6 L413.2,1421.6 L411.0,1413.8 L408.4,1406.9 L405.5,1402.1 L402.4,1397.5 L399.0,1392.7 L395.5,1386.7 L391.9,1379.9 L387.9,1375.0 L383.1,1375.2 L377.1,1377.4 L370.2,1380.7 L363.2,1384.6 L357.2,1385.8 L352.4,1382.7 L348.2,1378.0 L344.5,1373.5 L341.2,1370.9 L338.3,1363.2 L336.0,1356.9 L333.8,1353.4 L331.3,1353.5 L328.4,1360.7 L325.2,1378.5 L322.1,1397.0 L319.3,1413.8 L316.9,1431.5 L314.7,1446.1 L312.6,1456.2 L310.3,1454.9 L307.9,1448.6 L305.5,1438.0 L302.8,1427.4 L299.4,1421.8 L295.0,1429.4 L290.0,1442.0 L284.6,1455.7 L279.4,1465.9 L274.4,1472.4 L269.3,1477.2 L264.3,1481.7 L259.5,1487.4 L254.8,1493.1 L250.2,1500.3 L245.8,1506.3 L241.6,1508.2 L237.8,1507.3 L234.2,1504.1 L230.9,1499.4 L227.6,1496.1 L224.9,1494.2 L222.6,1492.5 L219.9,1491.6 L215.7,1491.3 L209.3,1489.1 L201.4,1487.4 L193.1,1485.8 L185.8,1483.4 L179.5,1481.4 L173.5,1478.8 L168.3,1475.5 L163.8,1471.2 L160.5,1465.9 L158.1,1461.0 L156.1,1455.1 L153.9,1448.0 L151.4,1439.0 L149.0,1428.3 L146.5,1417.2 L143.9,1410.5 L141.0,1405.8 L137.8,1401.7 L135.0,1398.3 L133.0,1395.9Z" fill="#f2a3a3"/>
<path d="M1576.5,1489.9 L1584.8,1489.0 L1596.8,1487.7 L1609.2,1485.9 L1618.5,1483.5 L1623.5,1480.0 L1626.1,1475.6 L1627.7,1471.1 L1629.5,1467.3 L1631.6,1464.3 L1633.4,1461.6 L1635.3,1459.6 L1637.7,1458.3 L1640.6,1458.5 L1643.8,1460.6 L1647.4,1462.8 L1651.4,1464.2 L1655.6,1463.9 L1660.1,1462.8 L1665.3,1461.8 L1671.5,1462.0 L1679.6,1464.3 L1689.0,1468.0 L1698.4,1471.6 L1706.3,1473.8 L1712.1,1473.9 L1716.5,1472.7 L1720.5,1471.1 L1724.5,1469.7 L1728.7,1468.3 L1732.6,1466.5 L1736.7,1465.3 L1741.0,1465.5 L1745.4,1468.0 L1749.7,1472.3 L1754.7,1476.9 L1761.0,1480.7 L1768.0,1483.3 L1775.5,1485.3 L1785.0,1487.1 L1797.7,1488.2 L1816.8,1488.5 L1840.6,1488.4 L1863.3,1488.3 L1879.0,1488.2 L1879.0,1500.2 L1863.3,1500.3 L1840.6,1500.4 L1816.8,1500.5 L1797.7,1500.2 L1785.0,1499.8 L1775.5,1499.2 L1768.0,1498.2 L1761.0,1496.6 L1754.7,1493.6 L1749.7,1489.6 L1745.4,1485.9 L1741.0,1483.8 L1736.7,1483.9 L1732.6,1485.4 L1728.7,1487.5 L1724.5,1489.3 L1720.5,1491.0 L1716.5,1492.9 L1712.1,1494.4 L1706.3,1494.7 L1698.4,1493.1 L1689.0,1490.3 L1679.6,1487.3 L1671.5,1485.6 L1665.3,1485.8 L1660.1,1487.2 L1655.6,1488.7 L1651.4,1489.3 L1647.4,1488.3 L1643.8,1486.3 L1640.6,1484.5 L1637.7,1483.8 L1635.3,1484.6 L1633.4,1486.2 L1631.6,1488.4 L1629.5,1491.0 L1627.7,1494.4 L1626.1,1498.5 L1623.5,1502.4 L1618.5,1504.8 L1609.2,1505.2 L1596.8,1504.3 L1584.8,1502.9 L1576.5,1502.0Z" fill="#fbe3e6"/>
<path d="M128,616V1509.5H1477M1577,1509H1879" fill="none" stroke="#c8c8c8" stroke-width="2.2"/>
<path d="M132.0,803.0C133.3,805.3 136.3,812.0 140.0,817.0C143.7,822.0 149.0,828.7 154.0,833.0C159.0,837.3 164.7,840.5 170.0,843.0C175.3,845.5 180.3,845.7 186.0,848.0C191.7,850.3 198.7,856.8 204.0,857.0C209.3,857.2 213.0,848.2 218.0,849.0C223.0,849.8 228.8,860.3 234.0,862.0C239.2,863.7 244.6,860.5 249.5,859.0C254.4,857.5 258.5,854.5 263.5,853.0C268.5,851.5 274.9,851.3 279.5,850.0C284.1,848.7 286.8,843.5 291.4,845.0C296.0,846.5 300.7,860.0 307.0,859.0C313.3,858.0 322.0,843.2 329.0,839.0C336.0,834.8 341.0,837.0 349.0,834.0C357.0,831.0 369.0,825.2 377.0,821.0C385.0,816.8 390.0,809.0 397.0,809.0C404.0,809.0 413.0,819.0 419.0,821.0C425.0,823.0 428.0,819.3 433.0,821.0C438.0,822.7 443.3,827.0 449.0,831.0C454.7,835.0 460.3,842.7 467.0,845.0C473.7,847.3 483.5,844.7 489.0,845.0C494.5,845.3 493.2,846.3 500.0,847.0C506.8,847.7 522.8,850.5 530.0,849.0C537.2,847.5 537.0,835.8 543.0,838.0C549.0,840.2 558.2,860.5 566.0,862.0C573.8,863.5 579.4,853.2 590.0,847.0C600.6,840.8 619.2,835.7 629.5,825.0C639.8,814.3 645.2,791.4 651.5,783.0C657.8,774.6 663.5,775.1 667.4,774.5C671.3,773.9 671.4,772.1 675.0,779.5C678.6,786.9 685.0,808.4 689.0,819.0C693.0,829.6 695.7,839.8 699.0,843.0C702.3,846.2 704.0,835.2 709.0,838.0C714.0,840.8 722.3,857.3 729.0,860.0C735.7,862.7 742.3,854.0 749.0,854.0C755.7,854.0 760.7,859.5 769.0,860.0C777.3,860.5 788.7,857.8 799.0,857.0C809.3,856.2 822.7,859.0 831.0,855.0C839.3,851.0 842.4,845.6 849.0,833.0C855.6,820.4 866.0,789.0 870.7,779.5C875.4,770.0 873.0,773.4 877.0,776.0C881.0,778.6 890.2,798.1 895.0,795.4C899.8,792.6 902.5,772.1 906.0,759.5C909.5,746.9 912.7,721.3 916.0,719.6C919.3,717.9 922.7,736.9 926.0,749.5C929.3,762.1 932.3,781.8 936.0,795.4C939.7,809.0 943.3,822.7 948.0,831.0C952.7,839.3 959.7,841.5 964.0,845.0C968.3,848.5 969.3,851.0 974.0,852.0C978.7,853.0 985.8,849.3 992.0,851.0C998.2,852.7 1004.2,862.3 1011.5,862.0C1018.8,861.7 1028.8,856.2 1035.5,849.0C1042.2,841.8 1047.4,833.9 1051.4,819.0C1055.4,804.1 1056.8,782.7 1059.4,759.5C1062.0,736.3 1064.9,699.9 1067.0,680.0C1069.1,660.1 1070.0,643.3 1072.0,640.0C1074.0,636.7 1075.8,648.4 1079.0,660.0C1082.2,671.6 1087.0,689.8 1091.0,709.7C1095.0,729.6 1099.0,758.6 1103.0,779.5C1107.0,800.4 1110.7,822.8 1115.0,835.0C1119.3,847.2 1122.3,849.8 1129.0,853.0C1135.7,856.2 1147.7,856.5 1155.0,854.0C1162.3,851.5 1167.3,838.0 1173.0,838.0C1178.7,838.0 1181.3,850.5 1189.0,854.0C1196.7,857.5 1209.0,858.0 1219.0,859.0C1229.0,860.0 1242.2,860.0 1249.0,860.0C1255.8,860.0 1253.5,860.5 1260.0,859.0C1266.5,857.5 1281.3,857.7 1288.0,851.0C1294.7,844.3 1296.7,832.6 1300.0,819.0C1303.3,805.4 1305.4,782.7 1308.0,769.5C1310.6,756.3 1313.1,741.3 1315.4,739.6C1317.7,737.9 1319.6,746.3 1322.0,759.5C1324.4,772.7 1327.0,804.8 1330.0,819.0C1333.0,833.2 1335.0,838.8 1340.0,845.0C1345.0,851.2 1351.4,854.2 1360.0,856.0C1368.6,857.8 1381.9,860.5 1391.5,856.0C1401.1,851.5 1410.4,830.2 1417.4,829.0C1424.4,827.8 1427.8,843.7 1433.4,849.0C1439.0,854.3 1443.7,859.3 1451.0,861.0C1458.3,862.7 1472.7,859.3 1477.0,859.0" fill="none" stroke="#46597a" stroke-width="5.5" stroke-linejoin="round" stroke-linecap="butt"/>
<path d="M1576.0,853.6C1579.5,852.8 1590.3,852.1 1597.0,848.6C1603.7,845.1 1610.9,840.8 1616.0,832.5C1621.1,824.2 1625.0,809.9 1627.8,798.6C1630.6,787.3 1630.8,775.4 1632.8,764.7C1634.8,754.0 1637.1,736.5 1639.6,734.2C1642.1,731.9 1645.2,746.0 1648.0,751.0C1650.8,756.0 1652.9,762.5 1656.6,763.9C1660.3,765.3 1664.7,762.3 1670.0,759.6C1675.3,756.9 1683.0,748.9 1688.7,747.8C1694.4,746.7 1698.6,749.7 1704.0,752.8C1709.4,755.9 1715.3,762.4 1721.0,766.4C1726.7,770.4 1733.5,771.8 1738.0,776.6C1742.5,781.4 1744.7,788.4 1748.0,795.2C1751.3,802.0 1753.2,811.0 1758.0,817.2C1762.8,823.4 1770.8,827.4 1776.8,832.5C1782.8,837.6 1788.1,844.5 1793.8,847.7C1799.5,851.0 1804.5,852.9 1810.7,852.0C1816.9,851.1 1824.8,842.5 1831.0,842.6C1837.2,842.7 1840.7,851.0 1848.0,852.8C1855.3,854.6 1870.5,853.5 1875.0,853.6" fill="none" stroke="#46597a" stroke-width="6" stroke-linejoin="round" stroke-linecap="butt"/>
<path d="M132.0,935.7C134.0,939.7 140.0,952.0 144.0,959.6C148.0,967.2 150.7,975.5 156.0,981.5C161.3,987.5 168.1,990.7 176.0,995.5C183.9,1000.3 196.8,1010.7 203.7,1010.4C210.6,1010.1 212.4,992.0 217.7,993.5C223.0,995.0 228.6,1016.1 235.6,1019.4C242.6,1022.7 252.2,1014.9 259.5,1013.4C266.8,1011.9 273.9,1014.4 279.4,1010.4C284.9,1006.4 287.6,988.5 292.4,989.5C297.2,990.5 301.8,1016.9 308.3,1016.4C314.8,1015.9 322.9,992.1 331.3,986.5C339.8,980.9 351.1,984.3 359.0,982.5C366.9,980.7 373.0,977.9 379.0,975.6C385.0,973.3 390.0,968.3 395.0,968.6C400.0,968.9 404.7,973.5 409.0,977.6C413.3,981.8 416.7,990.5 421.0,993.5C425.3,996.5 427.4,991.2 435.0,995.5C442.6,999.8 456.9,1016.4 466.8,1019.4C476.8,1022.4 485.8,1014.3 494.7,1013.4C503.6,1012.5 512.1,1014.2 520.0,1014.0C527.9,1013.8 534.3,1009.8 541.9,1012.4C549.5,1015.0 558.8,1028.7 565.8,1029.4C572.8,1030.1 578.7,1018.4 583.7,1016.4C588.7,1014.4 590.4,1020.5 595.7,1017.4C601.0,1014.2 609.6,1002.5 615.6,997.5C621.6,992.5 626.2,994.5 631.5,987.5C636.8,980.5 641.5,962.4 647.5,955.6C653.5,948.8 662.1,944.4 667.4,946.7C672.7,949.0 674.8,958.8 679.4,969.6C684.0,980.4 690.0,1004.8 695.3,1011.4C700.6,1018.0 706.0,1006.7 711.3,1009.4C716.6,1012.1 722.2,1026.4 727.2,1027.4C732.2,1028.4 735.9,1017.4 741.2,1015.4C746.5,1013.4 753.4,1014.1 759.0,1015.4C764.6,1016.7 763.7,1021.9 775.0,1023.4C786.3,1024.9 814.3,1029.1 826.9,1024.4C839.5,1019.8 844.2,1006.0 850.8,995.5C857.4,985.0 862.2,968.9 866.7,961.6C871.2,954.3 873.0,950.1 877.7,951.6C882.4,953.1 890.3,972.5 895.0,970.5C899.7,968.5 902.4,950.5 906.0,939.4C909.6,928.2 913.3,903.6 916.9,903.6C920.5,903.6 924.3,926.8 927.8,939.4C931.3,952.0 934.1,969.3 937.8,979.3C941.5,989.3 945.8,997.2 949.8,999.2C953.8,1001.2 957.4,988.6 961.7,991.3C966.0,994.0 970.7,1010.6 975.7,1015.2C980.7,1019.9 985.6,1016.7 991.6,1019.2C997.6,1021.7 1004.2,1030.1 1011.5,1030.1C1018.8,1030.1 1028.8,1026.0 1035.5,1019.2C1042.2,1012.4 1047.4,1002.6 1051.4,989.3C1055.4,976.0 1056.8,961.0 1059.4,939.4C1062.1,917.8 1065.2,877.6 1067.3,859.7C1069.4,841.8 1070.0,832.5 1072.3,831.8C1074.6,831.1 1077.8,844.4 1081.3,855.7C1084.8,867.0 1089.3,882.3 1093.3,899.6C1097.3,916.9 1101.2,942.1 1105.2,959.4C1109.2,976.7 1112.6,992.9 1117.2,1003.2C1121.8,1013.5 1126.5,1018.5 1133.1,1021.2C1139.7,1023.9 1150.2,1025.7 1157.0,1019.2C1163.8,1012.7 1169.0,983.3 1174.0,982.3C1179.0,981.3 1180.2,1005.9 1187.0,1013.2C1193.8,1020.5 1206.2,1024.4 1214.8,1026.1C1223.4,1027.8 1231.2,1023.5 1238.7,1023.1C1246.2,1022.8 1251.5,1025.3 1260.0,1024.0C1268.5,1022.7 1283.3,1020.1 1290.0,1015.4C1296.7,1010.6 1297.0,1008.1 1300.0,995.5C1303.0,982.9 1305.4,952.4 1308.0,939.6C1310.6,926.8 1312.8,915.4 1315.4,918.7C1318.0,922.0 1321.1,946.2 1323.8,959.6C1326.5,973.0 1327.4,989.8 1331.7,999.4C1336.0,1009.0 1341.1,1013.1 1349.7,1017.4C1358.3,1021.7 1375.3,1025.7 1383.6,1025.4C1391.9,1025.1 1393.9,1019.7 1399.5,1015.4C1405.1,1011.1 1410.8,998.1 1417.4,999.4C1424.1,1000.7 1429.8,1018.9 1439.4,1023.4C1449.0,1027.9 1469.1,1025.8 1475.0,1026.3" fill="none" stroke="#35603d" stroke-width="5.5" stroke-linejoin="round" stroke-linecap="butt"/>
<path d="M1576.0,1020.3C1580.4,1019.6 1595.5,1018.4 1602.4,1016.0C1609.3,1013.6 1613.4,1012.4 1617.6,1005.9C1621.8,999.4 1625.3,987.5 1627.8,977.0C1630.3,966.5 1630.8,952.8 1632.8,943.2C1634.8,933.6 1637.1,921.2 1639.6,919.5C1642.1,917.8 1644.6,928.5 1648.0,933.0C1651.4,937.5 1655.5,945.8 1660.0,946.6C1664.5,947.4 1670.1,940.5 1675.2,938.0C1680.3,935.5 1685.6,931.6 1690.4,931.3C1695.2,931.0 1699.2,933.6 1704.0,936.4C1708.8,939.2 1714.4,945.8 1719.2,948.3C1724.0,950.8 1728.8,949.6 1732.8,951.6C1736.8,953.6 1739.6,954.7 1743.0,960.1C1746.4,965.5 1749.6,978.1 1753.0,983.8C1756.4,989.4 1759.0,990.3 1763.3,994.0C1767.5,997.7 1773.4,1002.1 1778.5,1005.9C1783.6,1009.7 1788.1,1014.4 1793.8,1016.9C1799.5,1019.4 1806.2,1021.8 1812.4,1021.1C1818.6,1020.4 1824.5,1012.7 1831.0,1012.6C1837.5,1012.5 1843.8,1019.0 1851.4,1020.3C1859.0,1021.6 1872.6,1020.3 1876.8,1020.3" fill="none" stroke="#35603d" stroke-width="6" stroke-linejoin="round" stroke-linecap="butt"/>
<path d="M132.0,1054.8C133.7,1060.0 138.7,1074.6 142.0,1085.7C145.3,1096.8 148.6,1111.0 151.9,1121.6C155.2,1132.2 157.2,1142.8 161.9,1149.5C166.6,1156.2 172.8,1157.5 179.8,1161.5C186.8,1165.5 197.4,1173.9 203.7,1173.4C210.0,1172.9 213.0,1157.5 217.7,1158.5C222.3,1159.5 227.6,1173.4 231.6,1179.4C235.6,1185.4 236.3,1195.7 241.6,1194.4C246.9,1193.1 257.2,1177.6 263.5,1171.4C269.8,1165.2 274.1,1165.1 279.4,1157.5C284.7,1149.9 290.4,1128.3 295.4,1125.6C300.4,1122.9 305.3,1143.5 309.3,1141.5C313.3,1139.5 315.6,1125.5 319.3,1113.6C323.0,1101.6 328.0,1077.3 331.3,1069.8C334.6,1062.3 335.2,1067.6 339.2,1068.8C343.2,1070.0 349.9,1076.3 355.2,1076.8C360.5,1077.3 365.8,1071.6 371.1,1071.8C376.4,1072.0 381.7,1072.8 387.0,1077.8C392.3,1082.8 398.3,1093.1 403.0,1101.7C407.7,1110.3 411.0,1119.6 415.0,1129.6C419.0,1139.6 422.2,1154.9 426.9,1161.5C431.5,1168.1 437.6,1165.1 442.9,1169.4C448.2,1173.7 452.8,1184.7 458.8,1187.4C464.8,1190.1 472.4,1189.4 478.7,1185.4C485.0,1181.4 489.8,1166.7 496.7,1163.5C503.6,1160.3 512.1,1164.0 520.0,1166.0C527.9,1168.0 536.2,1172.5 543.8,1175.4C551.4,1178.3 559.8,1184.4 565.8,1183.4C571.8,1182.4 575.1,1169.4 579.7,1169.4C584.4,1169.4 588.4,1187.4 593.7,1183.4C599.0,1179.4 605.6,1155.8 611.6,1145.5C617.6,1135.2 623.5,1128.6 629.5,1121.6C635.5,1114.6 640.9,1105.4 647.5,1103.7C654.1,1102.0 664.1,1106.6 669.4,1111.6C674.7,1116.6 675.8,1124.6 679.4,1133.6C683.0,1142.6 687.0,1156.0 691.3,1165.5C695.6,1175.0 700.6,1187.1 705.3,1190.4C709.9,1193.7 713.9,1185.7 719.2,1185.4C724.5,1185.1 731.6,1193.1 737.2,1188.4C742.9,1183.8 748.1,1161.0 753.1,1157.5C758.1,1154.0 760.7,1165.5 767.0,1167.5C773.3,1169.5 783.7,1168.8 791.0,1169.4C798.3,1170.1 804.9,1169.1 810.9,1171.4C816.9,1173.7 821.6,1185.1 826.9,1183.4C832.2,1181.8 836.8,1169.8 842.8,1161.5C848.8,1153.2 856.7,1139.2 862.7,1133.6C868.7,1127.9 873.2,1126.6 878.7,1127.6C884.2,1128.6 889.8,1142.2 896.0,1139.5C902.2,1136.8 910.3,1110.6 915.9,1111.6C921.5,1112.6 924.8,1137.8 929.8,1145.5C934.8,1153.2 940.5,1156.2 945.8,1157.5C951.1,1158.8 956.4,1150.2 961.7,1153.5C967.0,1156.8 970.1,1170.6 977.7,1177.4C985.4,1184.2 998.3,1192.4 1007.6,1194.4C1016.9,1196.4 1025.5,1196.9 1033.5,1189.4C1041.5,1181.9 1050.1,1164.5 1055.4,1149.5C1060.7,1134.5 1062.2,1112.7 1065.3,1099.7C1068.4,1086.8 1070.3,1071.8 1074.3,1071.8C1078.3,1071.8 1084.5,1086.8 1089.3,1099.7C1094.1,1112.7 1098.2,1135.2 1103.2,1149.5C1108.2,1163.8 1113.6,1178.1 1119.2,1185.4C1124.8,1192.7 1130.5,1194.1 1137.1,1193.4C1143.7,1192.7 1152.3,1187.1 1159.0,1181.4C1165.7,1175.8 1171.0,1159.8 1177.0,1159.5C1183.0,1159.2 1188.6,1173.8 1194.9,1179.4C1201.2,1185.1 1208.8,1192.4 1214.8,1193.4C1220.8,1194.4 1225.5,1185.4 1230.8,1185.4C1236.1,1185.4 1241.8,1193.1 1246.7,1193.4C1251.6,1193.7 1252.8,1190.7 1260.0,1187.4C1267.2,1184.1 1283.3,1178.1 1290.0,1173.4C1296.7,1168.8 1297.0,1166.1 1300.0,1159.5C1303.0,1152.9 1305.2,1141.6 1308.0,1133.6C1310.8,1125.6 1313.8,1111.3 1316.8,1111.6C1319.8,1111.9 1322.0,1127.3 1325.8,1135.6C1329.6,1143.9 1334.7,1154.2 1339.7,1161.5C1344.7,1168.8 1347.7,1175.1 1355.7,1179.4C1363.7,1183.7 1377.6,1188.2 1387.6,1187.4C1397.6,1186.6 1406.9,1174.7 1415.5,1174.4C1424.1,1174.1 1429.5,1182.6 1439.4,1185.4C1449.3,1188.2 1469.1,1190.4 1475.0,1191.4" fill="none" stroke="#7a6c30" stroke-width="5.5" stroke-linejoin="round" stroke-linecap="butt"/>
<path d="M1576.0,1188.7C1580.1,1188.3 1593.8,1187.6 1600.7,1186.2C1607.6,1184.8 1613.1,1183.3 1617.6,1180.3C1622.1,1177.3 1625.3,1173.2 1627.8,1168.4C1630.3,1163.6 1631.0,1156.3 1632.8,1151.5C1634.6,1146.7 1636.3,1140.4 1638.8,1139.6C1641.3,1138.8 1644.8,1144.0 1648.0,1146.4C1651.2,1148.8 1654.6,1153.7 1658.3,1154.0C1662.0,1154.3 1665.5,1149.6 1670.0,1148.1C1674.5,1146.5 1679.7,1144.5 1685.4,1144.7C1691.1,1144.9 1698.1,1147.7 1704.0,1149.0C1709.9,1150.3 1714.8,1151.8 1721.0,1152.3C1727.2,1152.8 1736.8,1151.3 1741.3,1152.3C1745.8,1153.3 1744.3,1154.8 1748.0,1158.3C1751.7,1161.8 1757.1,1169.5 1763.3,1173.5C1769.5,1177.5 1778.2,1180.0 1785.3,1182.0C1792.3,1184.0 1798.0,1185.3 1805.6,1185.4C1813.2,1185.5 1823.9,1182.2 1831.0,1182.8C1838.1,1183.3 1840.1,1188.0 1848.0,1188.7C1855.9,1189.4 1873.4,1187.3 1878.5,1187.0" fill="none" stroke="#7a6c30" stroke-width="6" stroke-linejoin="round" stroke-linecap="butt"/>
<path d="M132.0,1184.9C133.7,1190.7 138.7,1208.0 142.0,1219.8C145.3,1231.6 148.9,1245.1 151.9,1255.7C154.9,1266.3 155.9,1276.3 159.9,1283.6C163.9,1290.9 168.5,1294.3 175.8,1299.5C183.1,1304.7 197.0,1314.2 203.7,1314.5C210.3,1314.8 211.7,1300.7 215.7,1301.5C219.7,1302.3 223.3,1313.2 227.6,1319.4C231.9,1325.6 236.3,1338.4 241.6,1338.4C246.9,1338.4 253.2,1325.9 259.5,1319.4C265.8,1312.9 273.1,1309.1 279.4,1299.5C285.7,1289.9 292.4,1264.4 297.4,1261.6C302.4,1258.8 305.6,1283.6 309.3,1282.6C313.0,1281.6 315.6,1268.5 319.3,1255.7C323.0,1242.9 327.7,1215.6 331.3,1205.8C334.9,1196.0 336.6,1196.9 341.2,1196.9C345.8,1196.9 352.9,1204.5 359.2,1205.8C365.5,1207.1 374.5,1204.3 379.1,1204.8C383.7,1205.3 382.7,1202.3 387.0,1208.8C391.3,1215.3 400.0,1231.9 405.0,1243.7C410.0,1255.5 413.0,1269.0 417.0,1279.6C421.0,1290.2 424.6,1301.8 428.9,1307.5C433.2,1313.2 437.9,1309.5 442.9,1313.5C447.9,1317.5 452.8,1329.1 458.8,1331.4C464.8,1333.7 472.4,1332.1 478.7,1327.4C485.0,1322.8 489.5,1307.0 496.7,1303.5C503.9,1300.0 514.7,1304.2 521.9,1306.5C529.1,1308.8 532.6,1314.0 539.9,1317.5C547.2,1321.0 559.2,1328.9 565.8,1327.4C572.4,1325.9 575.1,1308.8 579.7,1308.5C584.4,1308.2 588.4,1329.6 593.7,1325.4C599.0,1321.2 605.6,1294.5 611.6,1283.6C617.6,1272.6 623.5,1267.3 629.5,1259.7C635.5,1252.1 640.9,1239.5 647.5,1237.7C654.1,1235.9 664.1,1242.7 669.4,1248.7C674.7,1254.7 675.8,1263.1 679.4,1273.6C683.0,1284.1 687.3,1301.2 691.3,1311.5C695.3,1321.8 698.6,1332.4 703.3,1335.4C707.9,1338.4 713.9,1329.7 719.2,1329.4C724.5,1329.1 728.9,1337.7 735.2,1333.4C741.5,1329.1 750.5,1307.5 757.1,1303.5C763.7,1299.5 768.7,1307.5 775.0,1309.5C781.3,1311.5 789.0,1314.2 795.0,1315.5C801.0,1316.8 805.6,1315.2 810.9,1317.5C816.2,1319.8 821.6,1331.7 826.9,1329.4C832.2,1327.1 836.8,1311.8 842.8,1303.5C848.8,1295.2 856.7,1284.2 862.7,1279.6C868.7,1274.9 873.2,1273.9 878.7,1275.6C884.2,1277.2 889.8,1291.8 896.0,1289.5C902.2,1287.2 909.9,1261.3 915.9,1261.6C921.9,1261.9 926.8,1285.5 931.8,1291.5C936.8,1297.5 941.1,1297.5 945.8,1297.5C950.4,1297.5 954.7,1287.8 959.7,1291.5C964.7,1295.2 967.7,1312.1 975.7,1319.4C983.7,1326.7 997.6,1334.1 1007.6,1335.4C1017.6,1336.7 1027.9,1333.4 1035.5,1327.4C1043.1,1321.4 1048.4,1312.5 1053.4,1299.5C1058.4,1286.5 1061.7,1264.2 1065.3,1249.7C1068.9,1235.2 1071.3,1215.8 1075.3,1212.8C1079.3,1209.8 1084.6,1220.6 1089.3,1231.7C1094.0,1242.8 1098.9,1265.6 1103.2,1279.6C1107.5,1293.6 1109.6,1306.5 1115.2,1315.5C1120.8,1324.5 1129.8,1332.1 1137.1,1333.4C1144.4,1334.7 1153.0,1329.1 1159.0,1323.4C1165.0,1317.8 1168.0,1299.2 1173.0,1299.5C1178.0,1299.8 1184.2,1322.1 1188.9,1325.4C1193.6,1328.7 1196.6,1318.1 1200.9,1319.4C1205.2,1320.7 1209.8,1332.7 1214.8,1333.4C1219.8,1334.1 1225.8,1323.4 1230.8,1323.4C1235.8,1323.4 1239.8,1332.7 1244.7,1333.4C1249.6,1334.1 1252.5,1330.4 1260.0,1327.4C1267.5,1324.4 1283.3,1320.2 1290.0,1315.5C1296.7,1310.8 1297.0,1306.8 1300.0,1299.5C1303.0,1292.2 1305.0,1279.2 1307.8,1271.6C1310.6,1264.0 1313.5,1252.7 1316.8,1253.7C1320.1,1254.7 1324.0,1269.6 1327.8,1277.6C1331.6,1285.6 1334.7,1294.5 1339.7,1301.5C1344.7,1308.5 1350.7,1314.1 1357.7,1319.4C1364.7,1324.7 1372.0,1333.7 1381.6,1333.4C1391.2,1333.1 1405.9,1318.5 1415.5,1317.5C1425.1,1316.5 1429.5,1325.1 1439.4,1327.4C1449.3,1329.7 1469.1,1330.7 1475.0,1331.4" fill="none" stroke="#74503a" stroke-width="5.5" stroke-linejoin="round" stroke-linecap="butt"/>
<path d="M1576.5,1327.9C1582.9,1327.9 1606.6,1329.7 1614.8,1327.9C1623.0,1326.1 1622.8,1322.1 1625.8,1316.9C1628.8,1311.7 1631.0,1301.5 1633.1,1296.8C1635.2,1292.1 1635.5,1288.1 1638.6,1288.6C1641.6,1289.0 1646.5,1296.9 1651.4,1299.5C1656.3,1302.1 1663.0,1304.5 1667.9,1304.1C1672.8,1303.6 1676.8,1298.2 1680.7,1296.8C1684.7,1295.4 1685.8,1294.8 1691.6,1295.9C1697.4,1297.0 1707.2,1302.9 1715.4,1303.2C1723.6,1303.5 1735.2,1297.6 1741.0,1297.7C1746.8,1297.8 1746.7,1301.2 1750.0,1304.1C1753.3,1307.0 1756.1,1311.8 1761.0,1315.0C1765.9,1318.2 1773.3,1321.3 1779.4,1323.3C1785.5,1325.3 1788.6,1326.7 1797.7,1327.0C1806.8,1327.3 1823.6,1324.8 1834.2,1325.1C1844.8,1325.4 1854.1,1328.3 1861.6,1328.8C1869.1,1329.3 1876.1,1328.1 1879.0,1327.9" fill="none" stroke="#74503a" stroke-width="6" stroke-linejoin="round" stroke-linecap="butt"/>
<path d="M133.0,1335.9C134.8,1342.5 140.4,1361.1 143.9,1375.7C147.4,1390.3 150.6,1411.0 153.9,1423.6C157.2,1436.2 158.5,1444.5 163.8,1451.5C169.1,1458.5 177.2,1462.2 185.8,1465.4C194.5,1468.6 208.7,1467.4 215.7,1470.4C222.7,1473.4 223.3,1477.8 227.6,1483.4C231.9,1489.1 236.3,1506.0 241.6,1504.3C246.9,1502.6 253.2,1481.9 259.5,1473.4C265.8,1464.9 272.8,1463.5 279.4,1453.5C286.0,1443.5 294.2,1417.6 299.4,1413.6C304.5,1409.6 307.0,1431.2 310.3,1429.5C313.6,1427.8 315.8,1418.5 319.3,1403.6C322.8,1388.7 327.7,1351.5 331.3,1339.9C334.9,1328.3 336.9,1332.4 341.2,1333.9C345.5,1335.4 350.2,1346.5 357.2,1348.8C364.2,1351.1 376.1,1342.6 383.1,1347.8C390.1,1353.0 394.4,1369.7 399.0,1379.7C403.6,1389.7 407.7,1397.6 411.0,1407.6C414.3,1417.6 416.0,1428.2 419.0,1439.5C422.0,1450.8 425.6,1469.1 428.9,1475.4C432.2,1481.7 433.9,1472.8 438.9,1477.4C443.9,1482.1 452.2,1500.5 458.8,1503.3C465.4,1506.1 472.4,1501.1 478.7,1494.3C485.0,1487.5 491.7,1466.9 496.7,1462.4C501.7,1457.9 504.1,1466.6 508.6,1467.4C513.1,1468.2 517.7,1464.7 523.9,1467.4C530.1,1470.1 538.8,1480.1 545.8,1483.4C552.8,1486.7 560.1,1490.6 565.8,1487.3C571.4,1484.0 575.1,1462.2 579.7,1463.4C584.4,1464.6 588.4,1497.0 593.7,1494.3C599.0,1491.6 605.6,1460.3 611.6,1447.5C617.6,1434.7 624.2,1425.9 629.5,1417.6C634.8,1409.3 636.9,1398.0 643.5,1397.7C650.1,1397.4 662.8,1406.6 669.4,1415.6C676.0,1424.6 679.1,1439.2 683.4,1451.5C687.7,1463.8 691.3,1480.3 695.3,1489.3C699.3,1498.3 703.0,1505.0 707.3,1505.3C711.6,1505.6 716.2,1492.6 721.2,1491.3C726.2,1490.0 731.2,1502.6 737.2,1497.3C743.2,1492.0 750.1,1464.1 757.1,1459.4C764.1,1454.8 772.4,1465.7 779.0,1469.4C785.6,1473.1 792.7,1480.2 797.0,1481.4C801.3,1482.6 800.0,1473.8 805.0,1476.4C810.0,1479.1 820.6,1497.8 826.9,1497.3C833.2,1496.8 836.8,1481.7 842.8,1473.4C848.8,1465.1 856.4,1451.7 862.7,1447.5C869.0,1443.3 875.2,1446.2 880.7,1448.5C886.2,1450.8 890.1,1461.2 896.0,1461.4C901.9,1461.6 909.9,1449.2 915.9,1449.5C921.9,1449.8 926.8,1461.4 931.8,1463.4C936.8,1465.4 940.8,1462.1 945.8,1461.4C950.8,1460.7 956.7,1456.4 961.7,1459.4C966.7,1462.4 970.7,1473.4 975.7,1479.4C980.7,1485.4 986.0,1491.3 991.6,1495.3C997.2,1499.3 1002.5,1503.0 1009.5,1503.3C1016.5,1503.6 1025.8,1502.6 1033.5,1497.3C1041.2,1492.0 1049.8,1481.0 1055.4,1471.4C1061.0,1461.8 1063.7,1450.1 1067.3,1439.5C1070.9,1428.9 1073.6,1410.2 1077.3,1407.6C1081.0,1404.9 1085.3,1415.6 1089.3,1423.6C1093.3,1431.6 1097.2,1445.5 1101.2,1455.5C1105.2,1465.5 1107.2,1476.1 1113.2,1483.4C1119.2,1490.7 1130.1,1498.3 1137.1,1499.3C1144.1,1500.3 1149.7,1492.9 1155.0,1489.3C1160.3,1485.7 1164.0,1477.7 1169.0,1477.4C1174.0,1477.1 1179.7,1486.1 1185.0,1487.3C1190.3,1488.5 1195.9,1482.2 1200.9,1484.4C1205.9,1486.6 1209.8,1499.5 1214.8,1500.3C1219.8,1501.1 1225.8,1489.6 1230.8,1489.3C1235.8,1489.0 1239.2,1497.8 1244.7,1498.3C1250.2,1498.8 1256.5,1495.8 1264.0,1492.0C1271.5,1488.2 1283.0,1482.5 1290.0,1475.4C1297.0,1468.3 1300.8,1457.5 1305.8,1449.5C1310.8,1441.5 1314.1,1425.9 1319.8,1427.6C1325.5,1429.2 1333.4,1449.8 1339.7,1459.4C1346.0,1469.0 1350.4,1479.4 1357.7,1485.4C1365.0,1491.4 1374.0,1495.0 1383.6,1495.3C1393.2,1495.6 1406.2,1488.0 1415.5,1487.3C1424.8,1486.6 1432.1,1490.6 1439.4,1491.3C1446.7,1492.0 1453.3,1490.1 1459.3,1491.3C1465.3,1492.5 1472.5,1497.1 1475.2,1498.3" fill="none" stroke="#7c1519" stroke-width="5.5" stroke-linejoin="round" stroke-linecap="butt"/>
<path d="M1576.5,1496.0C1583.5,1496.5 1609.7,1500.6 1618.5,1498.8C1627.3,1497.0 1626.3,1488.5 1629.5,1485.0C1632.7,1481.5 1634.0,1478.1 1637.7,1477.8C1641.4,1477.5 1645.8,1483.0 1651.4,1483.3C1657.0,1483.6 1662.3,1478.7 1671.5,1479.6C1680.7,1480.5 1697.5,1488.1 1706.3,1488.7C1715.1,1489.3 1718.7,1485.1 1724.5,1483.3C1730.3,1481.5 1734.9,1476.6 1741.0,1477.8C1747.1,1479.0 1751.5,1487.9 1761.0,1490.6C1770.5,1493.3 1778.0,1493.6 1797.7,1494.2C1817.4,1494.8 1865.5,1494.2 1879.0,1494.2" fill="none" stroke="#7c1519" stroke-width="6" stroke-linejoin="round" stroke-linecap="butt"/>
<text x="742" y="47.8" font-family="Liberation Serif, serif" font-size="50" font-weight="400" text-anchor="start" textLength="507" lengthAdjust="spacingAndGlyphs">Histopathology Quintiles</text>
<text x="7.5" y="131" font-family="Liberation Sans, serif" font-size="48" font-weight="700" text-anchor="start" textLength="27" lengthAdjust="spacingAndGlyphs" stroke="#000" stroke-width="1.2">A</text>
<text x="9" y="573.5" font-family="Liberation Sans, serif" font-size="46" font-weight="700" text-anchor="start" textLength="23.5" lengthAdjust="spacingAndGlyphs" stroke="#000" stroke-width="1.2">B</text>
<text x="595.2" y="592.4" font-family="Liberation Serif, serif" font-size="41.5" font-weight="400" text-anchor="start" textLength="895" lengthAdjust="spacingAndGlyphs">Average Raman Spectra for Histopathology Quintiles</text>
<text x="123.4" y="485.7" font-family="Liberation Serif, serif" font-size="31" font-weight="700" text-anchor="start" textLength="134.6" lengthAdjust="spacingAndGlyphs">BC&#160;100%</text>
<text x="550" y="485.7" font-family="Liberation Serif, serif" font-size="31" font-weight="700" text-anchor="start" textLength="118" lengthAdjust="spacingAndGlyphs">BC&#160;75%</text>
<text x="946" y="485.7" font-family="Liberation Serif, serif" font-size="31" font-weight="700" text-anchor="start" textLength="119" lengthAdjust="spacingAndGlyphs">BC&#160;50%</text>
<text x="1339" y="485.7" font-family="Liberation Serif, serif" font-size="31" font-weight="700" text-anchor="start" textLength="118" lengthAdjust="spacingAndGlyphs">BC&#160;25%</text>
<text x="1747" y="485.7" font-family="Liberation Serif, serif" font-size="31" font-weight="700" text-anchor="start" textLength="102" lengthAdjust="spacingAndGlyphs">BC&#160;0%</text>
<text x="63.4" y="628.8" font-family="Liberation Sans, serif" font-size="35.5" font-weight="400" text-anchor="start" textLength="42.6" lengthAdjust="spacingAndGlyphs" stroke="#000" stroke-width="0.7">0.7</text>
<text x="63.4" y="758.0" font-family="Liberation Sans, serif" font-size="35.5" font-weight="400" text-anchor="start" textLength="42.6" lengthAdjust="spacingAndGlyphs" stroke="#000" stroke-width="0.7">0.6</text>
<text x="63.4" y="883.5" font-family="Liberation Sans, serif" font-size="35.5" font-weight="400" text-anchor="start" textLength="42.6" lengthAdjust="spacingAndGlyphs" stroke="#000" stroke-width="0.7">0.5</text>
<text x="63.4" y="1009.5" font-family="Liberation Sans, serif" font-size="35.5" font-weight="400" text-anchor="start" textLength="42.6" lengthAdjust="spacingAndGlyphs" stroke="#000" stroke-width="0.7">0.4</text>
<text x="63.4" y="1133.9" font-family="Liberation Sans, serif" font-size="35.5" font-weight="400" text-anchor="start" textLength="42.6" lengthAdjust="spacingAndGlyphs" stroke="#000" stroke-width="0.7">0.3</text>
<text x="63.4" y="1261.9" font-family="Liberation Sans, serif" font-size="35.5" font-weight="400" text-anchor="start" textLength="42.6" lengthAdjust="spacingAndGlyphs" stroke="#000" stroke-width="0.7">0.2</text>
<text x="63.4" y="1390.9" font-family="Liberation Sans, serif" font-size="35.5" font-weight="400" text-anchor="start" textLength="42.6" lengthAdjust="spacingAndGlyphs" stroke="#000" stroke-width="0.7">0.1</text>
<text x="63.4" y="1516.9" font-family="Liberation Sans, serif" font-size="35.5" font-weight="400" text-anchor="start" textLength="42.6" lengthAdjust="spacingAndGlyphs" stroke="#000" stroke-width="0.7">0.0</text>
<text x="101.6" y="1558" font-family="Liberation Sans, serif" font-size="36" font-weight="400" text-anchor="start" textLength="50.9" lengthAdjust="spacingAndGlyphs" stroke="#000" stroke-width="0.7">600</text>
<text x="211" y="1558" font-family="Liberation Sans, serif" font-size="36" font-weight="400" text-anchor="start" textLength="49" lengthAdjust="spacingAndGlyphs" stroke="#000" stroke-width="0.7">700</text>
<text x="318" y="1558" font-family="Liberation Sans, serif" font-size="36" font-weight="400" text-anchor="start" textLength="50.7" lengthAdjust="spacingAndGlyphs" stroke="#000" stroke-width="0.7">800</text>
<text x="434" y="1558" font-family="Liberation Sans, serif" font-size="36" font-weight="400" text-anchor="start" textLength="52" lengthAdjust="spacingAndGlyphs" stroke="#000" stroke-width="0.7">900</text>
<text x="543.5" y="1558" font-family="Liberation Sans, serif" font-size="36" font-weight="400" text-anchor="start" textLength="69.5" lengthAdjust="spacingAndGlyphs" stroke="#000" stroke-width="0.7">1000</text>
<text x="660.5" y="1558" font-family="Liberation Sans, serif" font-size="36" font-weight="400" text-anchor="start" textLength="68.5" lengthAdjust="spacingAndGlyphs" stroke="#000" stroke-width="0.7">1100</text>
<text x="767.7" y="1558" font-family="Liberation Sans, serif" font-size="36" font-weight="400" text-anchor="start" textLength="68.7" lengthAdjust="spacingAndGlyphs" stroke="#000" stroke-width="0.7">1200</text>
<text x="884.7" y="1558" font-family="Liberation Sans, serif" font-size="36" font-weight="400" text-anchor="start" textLength="68.3" lengthAdjust="spacingAndGlyphs" stroke="#000" stroke-width="0.7">1300</text>
<text x="994.4" y="1558" font-family="Liberation Sans, serif" font-size="36" font-weight="400" text-anchor="start" textLength="68.2" lengthAdjust="spacingAndGlyphs" stroke="#000" stroke-width="0.7">1400</text>
<text x="1111.4" y="1558" font-family="Liberation Sans, serif" font-size="36" font-weight="400" text-anchor="start" textLength="68.2" lengthAdjust="spacingAndGlyphs" stroke="#000" stroke-width="0.7">1500</text>
<text x="1218.3" y="1558" font-family="Liberation Sans, serif" font-size="36" font-weight="400" text-anchor="start" textLength="70.2" lengthAdjust="spacingAndGlyphs" stroke="#000" stroke-width="0.7">1600</text>
<text x="1336" y="1558" font-family="Liberation Sans, serif" font-size="36" font-weight="400" text-anchor="start" textLength="69.4" lengthAdjust="spacingAndGlyphs" stroke="#000" stroke-width="0.7">1700</text>
<text x="1444" y="1558" font-family="Liberation Sans, serif" font-size="36" font-weight="400" text-anchor="start" textLength="70.3" lengthAdjust="spacingAndGlyphs" stroke="#000" stroke-width="0.7">1800</text>
<text x="1552" y="1558" font-family="Liberation Sans, serif" font-size="36" font-weight="400" text-anchor="start" textLength="70" lengthAdjust="spacingAndGlyphs" stroke="#000" stroke-width="0.7">2800</text>
<text x="1669.8" y="1558" font-family="Liberation Sans, serif" font-size="36" font-weight="400" text-anchor="start" textLength="69.2" lengthAdjust="spacingAndGlyphs" stroke="#000" stroke-width="0.7">2900</text>
<text x="1786" y="1558" font-family="Liberation Sans, serif" font-size="36" font-weight="400" text-anchor="start" textLength="70.5" lengthAdjust="spacingAndGlyphs" stroke="#000" stroke-width="0.7">3000</text>
<text x="874.8" y="1631.4" font-family="Liberation Sans, sans-serif" font-size="39" font-weight="700" textLength="272" lengthAdjust="spacingAndGlyphs" stroke="#000" stroke-width="0.6">Raman Shift (cm</text>
<text x="1147" y="1615" font-family="Liberation Sans, sans-serif" font-size="22" font-weight="700" textLength="14" lengthAdjust="spacingAndGlyphs">-1</text>
<text x="1161" y="1631.4" font-family="Liberation Sans, sans-serif" font-size="39" font-weight="700" textLength="12" lengthAdjust="spacingAndGlyphs">)</text>
<text transform="translate(41.8,1303) rotate(-90)" x="0" y="0" font-family="Liberation Sans, sans-serif" font-size="39" font-weight="700" textLength="389" lengthAdjust="spacingAndGlyphs" stroke="#000" stroke-width="0.8">Relative Intensity ( a.u.)</text>
<text x="1843" y="651.7" font-family="Liberation Serif, serif" font-size="31" font-weight="700" text-anchor="start" textLength="94.5" lengthAdjust="spacingAndGlyphs">Tumor</text>
<text x="1818.8" y="688.7" font-family="Liberation Serif, serif" font-size="31" font-weight="700" text-anchor="start" textLength="165.0" lengthAdjust="spacingAndGlyphs">Abundance</text>
<text x="1810.7" y="776.7" font-family="Liberation Serif, serif" font-size="31" font-weight="700" text-anchor="start" textLength="160.9" lengthAdjust="spacingAndGlyphs">-0%&#160;(n=25)</text>
<text x="1802.8" y="953.6" font-family="Liberation Serif, serif" font-size="31" font-weight="700" text-anchor="start" textLength="177.7" lengthAdjust="spacingAndGlyphs">-25%&#160;(n=12)</text>
<text x="1802.8" y="1130.6" font-family="Liberation Serif, serif" font-size="31" font-weight="700" text-anchor="start" textLength="177.7" lengthAdjust="spacingAndGlyphs">-50%&#160;(n=19)</text>
<text x="1802.8" y="1281.5" font-family="Liberation Serif, serif" font-size="31" font-weight="700" text-anchor="start" textLength="177.7" lengthAdjust="spacingAndGlyphs">-75%&#160;(n=49)</text>
<text x="1794" y="1424.6" font-family="Liberation Serif, serif" font-size="31" font-weight="700" text-anchor="start" textLength="194.5" lengthAdjust="spacingAndGlyphs">-100%&#160;(n=49)</text>
</svg>
</body></html>
